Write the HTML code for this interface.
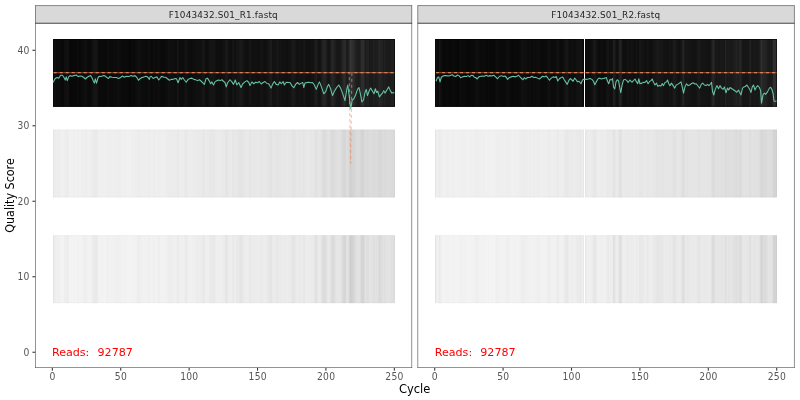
<!DOCTYPE html>
<html><head><meta charset="utf-8"><title>Quality profile</title>
<style>html,body{margin:0;padding:0;background:#fff;width:800px;height:400px;overflow:hidden}</style></head>
<body>
<svg width="800" height="400" viewBox="0 0 800 400" style="display:block;position:absolute;left:0;top:0" font-family='DejaVu Sans, Liberation Sans, sans-serif'>
<rect width="800" height="400" fill="#fff"/>
<g>
<rect x="53" y="39.00" width="1" height="67.90" fill="#141414"/>
<rect x="54" y="39.00" width="1" height="67.90" fill="#111111"/>
<rect x="55" y="39.00" width="1" height="67.90" fill="#0f0f0f"/>
<rect x="56" y="39.00" width="1" height="67.90" fill="#0c0c0c"/>
<rect x="57" y="39.00" width="3" height="67.90" fill="#0d0d0d"/>
<rect x="60" y="39.00" width="2" height="67.90" fill="#0a0a0a"/>
<rect x="62" y="39.00" width="2" height="67.90" fill="#090909"/>
<rect x="64" y="39.00" width="1" height="67.90" fill="#0f0f0f"/>
<rect x="65" y="39.00" width="1" height="67.90" fill="#0e0e0e"/>
<rect x="66" y="39.00" width="1" height="67.90" fill="#0f0f0f"/>
<rect x="67" y="39.00" width="1" height="67.90" fill="#141414"/>
<rect x="68" y="39.00" width="1" height="67.90" fill="#0d0d0d"/>
<rect x="69" y="39.00" width="1" height="67.90" fill="#0a0a0a"/>
<rect x="70" y="39.00" width="2" height="67.90" fill="#080808"/>
<rect x="72" y="39.00" width="2" height="67.90" fill="#090909"/>
<rect x="74" y="39.00" width="1" height="67.90" fill="#0a0a0a"/>
<rect x="75" y="39.00" width="1" height="67.90" fill="#080808"/>
<rect x="76" y="39.00" width="1" height="67.90" fill="#090909"/>
<rect x="77" y="39.00" width="1" height="67.90" fill="#0a0a0a"/>
<rect x="78" y="39.00" width="1" height="67.90" fill="#0c0c0c"/>
<rect x="79" y="39.00" width="1" height="67.90" fill="#080808"/>
<rect x="80" y="39.00" width="1" height="67.90" fill="#090909"/>
<rect x="81" y="39.00" width="1" height="67.90" fill="#0b0b0b"/>
<rect x="82" y="39.00" width="2" height="67.90" fill="#0c0c0c"/>
<rect x="84" y="39.00" width="1" height="67.90" fill="#0e0e0e"/>
<rect x="85" y="39.00" width="1" height="67.90" fill="#0f0f0f"/>
<rect x="86" y="39.00" width="1" height="67.90" fill="#0e0e0e"/>
<rect x="87" y="39.00" width="1" height="67.90" fill="#0b0b0b"/>
<rect x="88" y="39.00" width="3" height="67.90" fill="#0a0a0a"/>
<rect x="91" y="39.00" width="1" height="67.90" fill="#0c0c0c"/>
<rect x="92" y="39.00" width="1" height="67.90" fill="#101010"/>
<rect x="93" y="39.00" width="2" height="67.90" fill="#141414"/>
<rect x="95" y="39.00" width="2" height="67.90" fill="#151515"/>
<rect x="97" y="39.00" width="1" height="67.90" fill="#111111"/>
<rect x="98" y="39.00" width="1" height="67.90" fill="#0b0b0b"/>
<rect x="99" y="39.00" width="1" height="67.90" fill="#0a0a0a"/>
<rect x="100" y="39.00" width="1" height="67.90" fill="#090909"/>
<rect x="101" y="39.00" width="1" height="67.90" fill="#0b0b0b"/>
<rect x="102" y="39.00" width="2" height="67.90" fill="#0a0a0a"/>
<rect x="104" y="39.00" width="1" height="67.90" fill="#090909"/>
<rect x="105" y="39.00" width="1" height="67.90" fill="#0a0a0a"/>
<rect x="106" y="39.00" width="1" height="67.90" fill="#0b0b0b"/>
<rect x="107" y="39.00" width="1" height="67.90" fill="#0c0c0c"/>
<rect x="108" y="39.00" width="1" height="67.90" fill="#0e0e0e"/>
<rect x="109" y="39.00" width="1" height="67.90" fill="#0a0a0a"/>
<rect x="110" y="39.00" width="3" height="67.90" fill="#0b0b0b"/>
<rect x="113" y="39.00" width="4" height="67.90" fill="#0c0c0c"/>
<rect x="117" y="39.00" width="2" height="67.90" fill="#0e0e0e"/>
<rect x="119" y="39.00" width="2" height="67.90" fill="#0d0d0d"/>
<rect x="121" y="39.00" width="1" height="67.90" fill="#0b0b0b"/>
<rect x="122" y="39.00" width="2" height="67.90" fill="#0a0a0a"/>
<rect x="124" y="39.00" width="2" height="67.90" fill="#0b0b0b"/>
<rect x="126" y="39.00" width="2" height="67.90" fill="#0a0a0a"/>
<rect x="128" y="39.00" width="1" height="67.90" fill="#090909"/>
<rect x="129" y="39.00" width="2" height="67.90" fill="#080808"/>
<rect x="131" y="39.00" width="4" height="67.90" fill="#0a0a0a"/>
<rect x="135" y="39.00" width="1" height="67.90" fill="#0b0b0b"/>
<rect x="136" y="39.00" width="1" height="67.90" fill="#0d0d0d"/>
<rect x="137" y="39.00" width="1" height="67.90" fill="#0e0e0e"/>
<rect x="138" y="39.00" width="1" height="67.90" fill="#111111"/>
<rect x="139" y="39.00" width="1" height="67.90" fill="#0f0f0f"/>
<rect x="140" y="39.00" width="1" height="67.90" fill="#0e0e0e"/>
<rect x="141" y="39.00" width="1" height="67.90" fill="#0d0d0d"/>
<rect x="142" y="39.00" width="1" height="67.90" fill="#0b0b0b"/>
<rect x="143" y="39.00" width="2" height="67.90" fill="#0c0c0c"/>
<rect x="145" y="39.00" width="2" height="67.90" fill="#0b0b0b"/>
<rect x="147" y="39.00" width="1" height="67.90" fill="#0c0c0c"/>
<rect x="148" y="39.00" width="1" height="67.90" fill="#0d0d0d"/>
<rect x="149" y="39.00" width="1" height="67.90" fill="#101010"/>
<rect x="150" y="39.00" width="2" height="67.90" fill="#0a0a0a"/>
<rect x="152" y="39.00" width="1" height="67.90" fill="#0b0b0b"/>
<rect x="153" y="39.00" width="2" height="67.90" fill="#0d0d0d"/>
<rect x="155" y="39.00" width="1" height="67.90" fill="#0c0c0c"/>
<rect x="156" y="39.00" width="1" height="67.90" fill="#0b0b0b"/>
<rect x="157" y="39.00" width="1" height="67.90" fill="#0c0c0c"/>
<rect x="158" y="39.00" width="2" height="67.90" fill="#0e0e0e"/>
<rect x="160" y="39.00" width="1" height="67.90" fill="#0b0b0b"/>
<rect x="161" y="39.00" width="3" height="67.90" fill="#0a0a0a"/>
<rect x="164" y="39.00" width="2" height="67.90" fill="#0b0b0b"/>
<rect x="166" y="39.00" width="1" height="67.90" fill="#0c0c0c"/>
<rect x="167" y="39.00" width="1" height="67.90" fill="#0e0e0e"/>
<rect x="168" y="39.00" width="1" height="67.90" fill="#111111"/>
<rect x="169" y="39.00" width="2" height="67.90" fill="#101010"/>
<rect x="171" y="39.00" width="3" height="67.90" fill="#0f0f0f"/>
<rect x="174" y="39.00" width="1" height="67.90" fill="#0e0e0e"/>
<rect x="175" y="39.00" width="1" height="67.90" fill="#0d0d0d"/>
<rect x="176" y="39.00" width="1" height="67.90" fill="#0f0f0f"/>
<rect x="177" y="39.00" width="1" height="67.90" fill="#131313"/>
<rect x="178" y="39.00" width="1" height="67.90" fill="#151515"/>
<rect x="179" y="39.00" width="1" height="67.90" fill="#0b0b0b"/>
<rect x="180" y="39.00" width="2" height="67.90" fill="#0d0d0d"/>
<rect x="182" y="39.00" width="1" height="67.90" fill="#0c0c0c"/>
<rect x="183" y="39.00" width="1" height="67.90" fill="#0d0d0d"/>
<rect x="184" y="39.00" width="1" height="67.90" fill="#101010"/>
<rect x="185" y="39.00" width="1" height="67.90" fill="#131313"/>
<rect x="186" y="39.00" width="1" height="67.90" fill="#141414"/>
<rect x="187" y="39.00" width="2" height="67.90" fill="#0e0e0e"/>
<rect x="189" y="39.00" width="1" height="67.90" fill="#0d0d0d"/>
<rect x="190" y="39.00" width="1" height="67.90" fill="#0b0b0b"/>
<rect x="191" y="39.00" width="1" height="67.90" fill="#0c0c0c"/>
<rect x="192" y="39.00" width="1" height="67.90" fill="#0d0d0d"/>
<rect x="193" y="39.00" width="2" height="67.90" fill="#0e0e0e"/>
<rect x="195" y="39.00" width="1" height="67.90" fill="#0f0f0f"/>
<rect x="196" y="39.00" width="1" height="67.90" fill="#101010"/>
<rect x="197" y="39.00" width="1" height="67.90" fill="#111111"/>
<rect x="198" y="39.00" width="4" height="67.90" fill="#101010"/>
<rect x="202" y="39.00" width="1" height="67.90" fill="#141414"/>
<rect x="203" y="39.00" width="2" height="67.90" fill="#161616"/>
<rect x="205" y="39.00" width="1" height="67.90" fill="#0d0d0d"/>
<rect x="206" y="39.00" width="2" height="67.90" fill="#0e0e0e"/>
<rect x="208" y="39.00" width="1" height="67.90" fill="#0f0f0f"/>
<rect x="209" y="39.00" width="1" height="67.90" fill="#131313"/>
<rect x="210" y="39.00" width="2" height="67.90" fill="#151515"/>
<rect x="212" y="39.00" width="1" height="67.90" fill="#131313"/>
<rect x="213" y="39.00" width="1" height="67.90" fill="#171717"/>
<rect x="214" y="39.00" width="1" height="67.90" fill="#141414"/>
<rect x="215" y="39.00" width="1" height="67.90" fill="#111111"/>
<rect x="216" y="39.00" width="3" height="67.90" fill="#0e0e0e"/>
<rect x="219" y="39.00" width="1" height="67.90" fill="#0f0f0f"/>
<rect x="220" y="39.00" width="1" height="67.90" fill="#0d0d0d"/>
<rect x="221" y="39.00" width="1" height="67.90" fill="#0f0f0f"/>
<rect x="222" y="39.00" width="1" height="67.90" fill="#101010"/>
<rect x="223" y="39.00" width="2" height="67.90" fill="#111111"/>
<rect x="225" y="39.00" width="1" height="67.90" fill="#181818"/>
<rect x="226" y="39.00" width="1" height="67.90" fill="#1a1a1a"/>
<rect x="227" y="39.00" width="1" height="67.90" fill="#161616"/>
<rect x="228" y="39.00" width="1" height="67.90" fill="#121212"/>
<rect x="229" y="39.00" width="1" height="67.90" fill="#101010"/>
<rect x="230" y="39.00" width="2" height="67.90" fill="#0f0f0f"/>
<rect x="232" y="39.00" width="2" height="67.90" fill="#141414"/>
<rect x="234" y="39.00" width="1" height="67.90" fill="#131313"/>
<rect x="235" y="39.00" width="1" height="67.90" fill="#0f0f0f"/>
<rect x="236" y="39.00" width="1" height="67.90" fill="#141414"/>
<rect x="237" y="39.00" width="1" height="67.90" fill="#161616"/>
<rect x="238" y="39.00" width="1" height="67.90" fill="#141414"/>
<rect x="239" y="39.00" width="1" height="67.90" fill="#181818"/>
<rect x="240" y="39.00" width="2" height="67.90" fill="#1a1a1a"/>
<rect x="242" y="39.00" width="1" height="67.90" fill="#161616"/>
<rect x="243" y="39.00" width="1" height="67.90" fill="#141414"/>
<rect x="244" y="39.00" width="1" height="67.90" fill="#121212"/>
<rect x="245" y="39.00" width="1" height="67.90" fill="#101010"/>
<rect x="246" y="39.00" width="2" height="67.90" fill="#0f0f0f"/>
<rect x="248" y="39.00" width="1" height="67.90" fill="#111111"/>
<rect x="249" y="39.00" width="1" height="67.90" fill="#141414"/>
<rect x="250" y="39.00" width="1" height="67.90" fill="#161616"/>
<rect x="251" y="39.00" width="1" height="67.90" fill="#121212"/>
<rect x="252" y="39.00" width="1" height="67.90" fill="#101010"/>
<rect x="253" y="39.00" width="2" height="67.90" fill="#121212"/>
<rect x="255" y="39.00" width="1" height="67.90" fill="#111111"/>
<rect x="256" y="39.00" width="1" height="67.90" fill="#101010"/>
<rect x="257" y="39.00" width="1" height="67.90" fill="#111111"/>
<rect x="258" y="39.00" width="1" height="67.90" fill="#0f0f0f"/>
<rect x="259" y="39.00" width="1" height="67.90" fill="#101010"/>
<rect x="260" y="39.00" width="1" height="67.90" fill="#121212"/>
<rect x="261" y="39.00" width="1" height="67.90" fill="#141414"/>
<rect x="262" y="39.00" width="1" height="67.90" fill="#121212"/>
<rect x="263" y="39.00" width="1" height="67.90" fill="#111111"/>
<rect x="264" y="39.00" width="2" height="67.90" fill="#101010"/>
<rect x="266" y="39.00" width="1" height="67.90" fill="#121212"/>
<rect x="267" y="39.00" width="1" height="67.90" fill="#141414"/>
<rect x="268" y="39.00" width="1" height="67.90" fill="#151515"/>
<rect x="269" y="39.00" width="1" height="67.90" fill="#191919"/>
<rect x="270" y="39.00" width="2" height="67.90" fill="#1b1b1b"/>
<rect x="272" y="39.00" width="1" height="67.90" fill="#131313"/>
<rect x="273" y="39.00" width="2" height="67.90" fill="#121212"/>
<rect x="275" y="39.00" width="1" height="67.90" fill="#131313"/>
<rect x="276" y="39.00" width="1" height="67.90" fill="#151515"/>
<rect x="277" y="39.00" width="1" height="67.90" fill="#171717"/>
<rect x="278" y="39.00" width="1" height="67.90" fill="#161616"/>
<rect x="279" y="39.00" width="1" height="67.90" fill="#121212"/>
<rect x="280" y="39.00" width="2" height="67.90" fill="#131313"/>
<rect x="282" y="39.00" width="1" height="67.90" fill="#121212"/>
<rect x="283" y="39.00" width="1" height="67.90" fill="#101010"/>
<rect x="284" y="39.00" width="1" height="67.90" fill="#131313"/>
<rect x="285" y="39.00" width="1" height="67.90" fill="#121212"/>
<rect x="286" y="39.00" width="2" height="67.90" fill="#101010"/>
<rect x="288" y="39.00" width="2" height="67.90" fill="#121212"/>
<rect x="290" y="39.00" width="1" height="67.90" fill="#111111"/>
<rect x="291" y="39.00" width="1" height="67.90" fill="#181818"/>
<rect x="292" y="39.00" width="1" height="67.90" fill="#191919"/>
<rect x="293" y="39.00" width="1" height="67.90" fill="#1a1a1a"/>
<rect x="294" y="39.00" width="1" height="67.90" fill="#191919"/>
<rect x="295" y="39.00" width="1" height="67.90" fill="#151515"/>
<rect x="296" y="39.00" width="1" height="67.90" fill="#121212"/>
<rect x="297" y="39.00" width="1" height="67.90" fill="#111111"/>
<rect x="298" y="39.00" width="1" height="67.90" fill="#131313"/>
<rect x="299" y="39.00" width="1" height="67.90" fill="#141414"/>
<rect x="300" y="39.00" width="1" height="67.90" fill="#131313"/>
<rect x="301" y="39.00" width="2" height="67.90" fill="#121212"/>
<rect x="303" y="39.00" width="1" height="67.90" fill="#161616"/>
<rect x="304" y="39.00" width="1" height="67.90" fill="#171717"/>
<rect x="305" y="39.00" width="3" height="67.90" fill="#111111"/>
<rect x="308" y="39.00" width="2" height="67.90" fill="#101010"/>
<rect x="310" y="39.00" width="3" height="67.90" fill="#121212"/>
<rect x="313" y="39.00" width="1" height="67.90" fill="#131313"/>
<rect x="314" y="39.00" width="1" height="67.90" fill="#181818"/>
<rect x="315" y="39.00" width="1" height="67.90" fill="#1b1b1b"/>
<rect x="316" y="39.00" width="1" height="67.90" fill="#1f1f1f"/>
<rect x="317" y="39.00" width="1" height="67.90" fill="#171717"/>
<rect x="318" y="39.00" width="1" height="67.90" fill="#131313"/>
<rect x="319" y="39.00" width="1" height="67.90" fill="#121212"/>
<rect x="320" y="39.00" width="1" height="67.90" fill="#141414"/>
<rect x="321" y="39.00" width="1" height="67.90" fill="#1b1b1b"/>
<rect x="322" y="39.00" width="1" height="67.90" fill="#202020"/>
<rect x="323" y="39.00" width="1" height="67.90" fill="#242424"/>
<rect x="324" y="39.00" width="1" height="67.90" fill="#262626"/>
<rect x="325" y="39.00" width="1" height="67.90" fill="#222222"/>
<rect x="326" y="39.00" width="1" height="67.90" fill="#1d1d1d"/>
<rect x="327" y="39.00" width="1" height="67.90" fill="#171717"/>
<rect x="328" y="39.00" width="1" height="67.90" fill="#141414"/>
<rect x="329" y="39.00" width="1" height="67.90" fill="#171717"/>
<rect x="330" y="39.00" width="1" height="67.90" fill="#1b1b1b"/>
<rect x="331" y="39.00" width="1" height="67.90" fill="#222222"/>
<rect x="332" y="39.00" width="1" height="67.90" fill="#282828"/>
<rect x="333" y="39.00" width="1" height="67.90" fill="#242424"/>
<rect x="334" y="39.00" width="1" height="67.90" fill="#202020"/>
<rect x="335" y="39.00" width="1" height="67.90" fill="#1c1c1c"/>
<rect x="336" y="39.00" width="1" height="67.90" fill="#181818"/>
<rect x="337" y="39.00" width="2" height="67.90" fill="#171717"/>
<rect x="339" y="39.00" width="1" height="67.90" fill="#161616"/>
<rect x="340" y="39.00" width="1" height="67.90" fill="#1a1a1a"/>
<rect x="341" y="39.00" width="1" height="67.90" fill="#1e1e1e"/>
<rect x="342" y="39.00" width="1" height="67.90" fill="#232323"/>
<rect x="343" y="39.00" width="1" height="67.90" fill="#292929"/>
<rect x="344" y="39.00" width="1" height="67.90" fill="#2c2c2c"/>
<rect x="345" y="39.00" width="1" height="67.90" fill="#292929"/>
<rect x="346" y="39.00" width="1" height="67.90" fill="#1d1d1d"/>
<rect x="347" y="39.00" width="1" height="67.90" fill="#1b1b1b"/>
<rect x="348" y="39.00" width="1" height="67.90" fill="#222222"/>
<rect x="349" y="39.00" width="1" height="67.90" fill="#2a2a2a"/>
<rect x="350" y="39.00" width="1" height="67.90" fill="#363636"/>
<rect x="351" y="39.00" width="1" height="67.90" fill="#313131"/>
<rect x="352" y="39.00" width="1" height="67.90" fill="#2e2e2e"/>
<rect x="353" y="39.00" width="1" height="67.90" fill="#2c2c2c"/>
<rect x="354" y="39.00" width="1" height="67.90" fill="#272727"/>
<rect x="355" y="39.00" width="1" height="67.90" fill="#222222"/>
<rect x="356" y="39.00" width="1" height="67.90" fill="#1f1f1f"/>
<rect x="357" y="39.00" width="1" height="67.90" fill="#1c1c1c"/>
<rect x="358" y="39.00" width="1" height="67.90" fill="#1b1b1b"/>
<rect x="359" y="39.00" width="1" height="67.90" fill="#1d1d1d"/>
<rect x="360" y="39.00" width="1" height="67.90" fill="#222222"/>
<rect x="361" y="39.00" width="1" height="67.90" fill="#2d2d2d"/>
<rect x="362" y="39.00" width="1" height="67.90" fill="#2e2e2e"/>
<rect x="363" y="39.00" width="1" height="67.90" fill="#2b2b2b"/>
<rect x="364" y="39.00" width="1" height="67.90" fill="#262626"/>
<rect x="365" y="39.00" width="1" height="67.90" fill="#1c1c1c"/>
<rect x="366" y="39.00" width="1" height="67.90" fill="#202020"/>
<rect x="367" y="39.00" width="2" height="67.90" fill="#212121"/>
<rect x="369" y="39.00" width="1" height="67.90" fill="#1a1a1a"/>
<rect x="370" y="39.00" width="2" height="67.90" fill="#1b1b1b"/>
<rect x="372" y="39.00" width="1" height="67.90" fill="#1a1a1a"/>
<rect x="373" y="39.00" width="1" height="67.90" fill="#212121"/>
<rect x="374" y="39.00" width="1" height="67.90" fill="#1e1e1e"/>
<rect x="375" y="39.00" width="1" height="67.90" fill="#1c1c1c"/>
<rect x="376" y="39.00" width="2" height="67.90" fill="#1e1e1e"/>
<rect x="378" y="39.00" width="1" height="67.90" fill="#222222"/>
<rect x="379" y="39.00" width="1" height="67.90" fill="#282828"/>
<rect x="380" y="39.00" width="1" height="67.90" fill="#242424"/>
<rect x="381" y="39.00" width="1" height="67.90" fill="#232323"/>
<rect x="382" y="39.00" width="1" height="67.90" fill="#202020"/>
<rect x="383" y="39.00" width="1" height="67.90" fill="#1c1c1c"/>
<rect x="384" y="39.00" width="1" height="67.90" fill="#202020"/>
<rect x="385" y="39.00" width="1" height="67.90" fill="#1e1e1e"/>
<rect x="386" y="39.00" width="1" height="67.90" fill="#1c1c1c"/>
<rect x="387" y="39.00" width="1" height="67.90" fill="#1a1a1a"/>
<rect x="388" y="39.00" width="3" height="67.90" fill="#1b1b1b"/>
<rect x="391" y="39.00" width="1" height="67.90" fill="#202020"/>
<rect x="392" y="39.00" width="1" height="67.90" fill="#1f1f1f"/>
<rect x="393" y="39.00" width="2" height="67.90" fill="#202020"/>
<rect x="53.50" y="39.50" width="341.00" height="66.90" fill="none" stroke="#000" stroke-opacity="0.550" stroke-width="1"/>
<rect x="53" y="129.54" width="1" height="67.94" fill="#ebebeb"/>
<rect x="54" y="129.54" width="1" height="67.94" fill="#ececec"/>
<rect x="55" y="129.54" width="1" height="67.94" fill="#ededed"/>
<rect x="56" y="129.54" width="1" height="67.94" fill="#eeeeee"/>
<rect x="57" y="129.54" width="3" height="67.94" fill="#ededed"/>
<rect x="60" y="129.54" width="1" height="67.94" fill="#efefef"/>
<rect x="61" y="129.54" width="3" height="67.94" fill="#f0f0f0"/>
<rect x="64" y="129.54" width="2" height="67.94" fill="#eeeeee"/>
<rect x="66" y="129.54" width="1" height="67.94" fill="#ededed"/>
<rect x="67" y="129.54" width="1" height="67.94" fill="#ebebeb"/>
<rect x="68" y="129.54" width="1" height="67.94" fill="#eeeeee"/>
<rect x="69" y="129.54" width="1" height="67.94" fill="#f0f0f0"/>
<rect x="70" y="129.54" width="3" height="67.94" fill="#f1f1f1"/>
<rect x="73" y="129.54" width="1" height="67.94" fill="#f0f0f0"/>
<rect x="74" y="129.54" width="1" height="67.94" fill="#efefef"/>
<rect x="75" y="129.54" width="1" height="67.94" fill="#f1f1f1"/>
<rect x="76" y="129.54" width="2" height="67.94" fill="#f0f0f0"/>
<rect x="78" y="129.54" width="1" height="67.94" fill="#eeeeee"/>
<rect x="79" y="129.54" width="1" height="67.94" fill="#f1f1f1"/>
<rect x="80" y="129.54" width="1" height="67.94" fill="#f0f0f0"/>
<rect x="81" y="129.54" width="1" height="67.94" fill="#efefef"/>
<rect x="82" y="129.54" width="1" height="67.94" fill="#eeeeee"/>
<rect x="83" y="129.54" width="1" height="67.94" fill="#efefef"/>
<rect x="84" y="129.54" width="1" height="67.94" fill="#eeeeee"/>
<rect x="85" y="129.54" width="2" height="67.94" fill="#ededed"/>
<rect x="87" y="129.54" width="1" height="67.94" fill="#efefef"/>
<rect x="88" y="129.54" width="1" height="67.94" fill="#f0f0f0"/>
<rect x="89" y="129.54" width="2" height="67.94" fill="#efefef"/>
<rect x="91" y="129.54" width="1" height="67.94" fill="#eeeeee"/>
<rect x="92" y="129.54" width="1" height="67.94" fill="#ededed"/>
<rect x="93" y="129.54" width="1" height="67.94" fill="#eaeaea"/>
<rect x="94" y="129.54" width="1" height="67.94" fill="#ebebeb"/>
<rect x="95" y="129.54" width="2" height="67.94" fill="#eaeaea"/>
<rect x="97" y="129.54" width="1" height="67.94" fill="#ececec"/>
<rect x="98" y="129.54" width="2" height="67.94" fill="#efefef"/>
<rect x="100" y="129.54" width="1" height="67.94" fill="#f0f0f0"/>
<rect x="101" y="129.54" width="3" height="67.94" fill="#efefef"/>
<rect x="104" y="129.54" width="1" height="67.94" fill="#f0f0f0"/>
<rect x="105" y="129.54" width="2" height="67.94" fill="#efefef"/>
<rect x="107" y="129.54" width="1" height="67.94" fill="#eeeeee"/>
<rect x="108" y="129.54" width="1" height="67.94" fill="#ededed"/>
<rect x="109" y="129.54" width="2" height="67.94" fill="#efefef"/>
<rect x="111" y="129.54" width="1" height="67.94" fill="#eeeeee"/>
<rect x="112" y="129.54" width="1" height="67.94" fill="#efefef"/>
<rect x="113" y="129.54" width="4" height="67.94" fill="#eeeeee"/>
<rect x="117" y="129.54" width="2" height="67.94" fill="#ededed"/>
<rect x="119" y="129.54" width="2" height="67.94" fill="#eeeeee"/>
<rect x="121" y="129.54" width="1" height="67.94" fill="#efefef"/>
<rect x="122" y="129.54" width="1" height="67.94" fill="#f0f0f0"/>
<rect x="123" y="129.54" width="3" height="67.94" fill="#efefef"/>
<rect x="126" y="129.54" width="3" height="67.94" fill="#f0f0f0"/>
<rect x="129" y="129.54" width="2" height="67.94" fill="#f1f1f1"/>
<rect x="131" y="129.54" width="4" height="67.94" fill="#efefef"/>
<rect x="135" y="129.54" width="2" height="67.94" fill="#eeeeee"/>
<rect x="137" y="129.54" width="1" height="67.94" fill="#ededed"/>
<rect x="138" y="129.54" width="1" height="67.94" fill="#ececec"/>
<rect x="139" y="129.54" width="2" height="67.94" fill="#ededed"/>
<rect x="141" y="129.54" width="1" height="67.94" fill="#eeeeee"/>
<rect x="142" y="129.54" width="1" height="67.94" fill="#efefef"/>
<rect x="143" y="129.54" width="5" height="67.94" fill="#eeeeee"/>
<rect x="148" y="129.54" width="1" height="67.94" fill="#ededed"/>
<rect x="149" y="129.54" width="1" height="67.94" fill="#ececec"/>
<rect x="150" y="129.54" width="3" height="67.94" fill="#efefef"/>
<rect x="153" y="129.54" width="2" height="67.94" fill="#ededed"/>
<rect x="155" y="129.54" width="1" height="67.94" fill="#eeeeee"/>
<rect x="156" y="129.54" width="1" height="67.94" fill="#efefef"/>
<rect x="157" y="129.54" width="1" height="67.94" fill="#eeeeee"/>
<rect x="158" y="129.54" width="2" height="67.94" fill="#ededed"/>
<rect x="160" y="129.54" width="1" height="67.94" fill="#eeeeee"/>
<rect x="161" y="129.54" width="3" height="67.94" fill="#efefef"/>
<rect x="164" y="129.54" width="2" height="67.94" fill="#eeeeee"/>
<rect x="166" y="129.54" width="1" height="67.94" fill="#ededed"/>
<rect x="167" y="129.54" width="1" height="67.94" fill="#ececec"/>
<rect x="168" y="129.54" width="3" height="67.94" fill="#ebebeb"/>
<rect x="171" y="129.54" width="1" height="67.94" fill="#ececec"/>
<rect x="172" y="129.54" width="3" height="67.94" fill="#ebebeb"/>
<rect x="175" y="129.54" width="1" height="67.94" fill="#ececec"/>
<rect x="176" y="129.54" width="1" height="67.94" fill="#ebebeb"/>
<rect x="177" y="129.54" width="1" height="67.94" fill="#e9e9e9"/>
<rect x="178" y="129.54" width="1" height="67.94" fill="#e8e8e8"/>
<rect x="179" y="129.54" width="1" height="67.94" fill="#ededed"/>
<rect x="180" y="129.54" width="2" height="67.94" fill="#ececec"/>
<rect x="182" y="129.54" width="1" height="67.94" fill="#ededed"/>
<rect x="183" y="129.54" width="1" height="67.94" fill="#ececec"/>
<rect x="184" y="129.54" width="1" height="67.94" fill="#eaeaea"/>
<rect x="185" y="129.54" width="1" height="67.94" fill="#e9e9e9"/>
<rect x="186" y="129.54" width="1" height="67.94" fill="#e8e8e8"/>
<rect x="187" y="129.54" width="3" height="67.94" fill="#ececec"/>
<rect x="190" y="129.54" width="1" height="67.94" fill="#ededed"/>
<rect x="191" y="129.54" width="2" height="67.94" fill="#ececec"/>
<rect x="193" y="129.54" width="1" height="67.94" fill="#ebebeb"/>
<rect x="194" y="129.54" width="1" height="67.94" fill="#ececec"/>
<rect x="195" y="129.54" width="1" height="67.94" fill="#ebebeb"/>
<rect x="196" y="129.54" width="6" height="67.94" fill="#eaeaea"/>
<rect x="202" y="129.54" width="1" height="67.94" fill="#e8e8e8"/>
<rect x="203" y="129.54" width="2" height="67.94" fill="#e7e7e7"/>
<rect x="205" y="129.54" width="1" height="67.94" fill="#ebebeb"/>
<rect x="206" y="129.54" width="3" height="67.94" fill="#eaeaea"/>
<rect x="209" y="129.54" width="1" height="67.94" fill="#e8e8e8"/>
<rect x="210" y="129.54" width="2" height="67.94" fill="#e7e7e7"/>
<rect x="212" y="129.54" width="1" height="67.94" fill="#e8e8e8"/>
<rect x="213" y="129.54" width="1" height="67.94" fill="#e7e7e7"/>
<rect x="214" y="129.54" width="1" height="67.94" fill="#e8e8e8"/>
<rect x="215" y="129.54" width="1" height="67.94" fill="#e9e9e9"/>
<rect x="216" y="129.54" width="1" height="67.94" fill="#eaeaea"/>
<rect x="217" y="129.54" width="1" height="67.94" fill="#ebebeb"/>
<rect x="218" y="129.54" width="2" height="67.94" fill="#eaeaea"/>
<rect x="220" y="129.54" width="1" height="67.94" fill="#ebebeb"/>
<rect x="221" y="129.54" width="1" height="67.94" fill="#eaeaea"/>
<rect x="222" y="129.54" width="3" height="67.94" fill="#e9e9e9"/>
<rect x="225" y="129.54" width="1" height="67.94" fill="#e6e6e6"/>
<rect x="226" y="129.54" width="1" height="67.94" fill="#e4e4e4"/>
<rect x="227" y="129.54" width="1" height="67.94" fill="#e6e6e6"/>
<rect x="228" y="129.54" width="1" height="67.94" fill="#e8e8e8"/>
<rect x="229" y="129.54" width="1" height="67.94" fill="#e9e9e9"/>
<rect x="230" y="129.54" width="2" height="67.94" fill="#eaeaea"/>
<rect x="232" y="129.54" width="2" height="67.94" fill="#e6e6e6"/>
<rect x="234" y="129.54" width="1" height="67.94" fill="#e7e7e7"/>
<rect x="235" y="129.54" width="1" height="67.94" fill="#e9e9e9"/>
<rect x="236" y="129.54" width="1" height="67.94" fill="#e7e7e7"/>
<rect x="237" y="129.54" width="1" height="67.94" fill="#e6e6e6"/>
<rect x="238" y="129.54" width="1" height="67.94" fill="#e7e7e7"/>
<rect x="239" y="129.54" width="3" height="67.94" fill="#e4e4e4"/>
<rect x="242" y="129.54" width="1" height="67.94" fill="#e5e5e5"/>
<rect x="243" y="129.54" width="1" height="67.94" fill="#e6e6e6"/>
<rect x="244" y="129.54" width="1" height="67.94" fill="#e7e7e7"/>
<rect x="245" y="129.54" width="1" height="67.94" fill="#e8e8e8"/>
<rect x="246" y="129.54" width="2" height="67.94" fill="#e9e9e9"/>
<rect x="248" y="129.54" width="1" height="67.94" fill="#e8e8e8"/>
<rect x="249" y="129.54" width="1" height="67.94" fill="#e6e6e6"/>
<rect x="250" y="129.54" width="1" height="67.94" fill="#e5e5e5"/>
<rect x="251" y="129.54" width="1" height="67.94" fill="#e8e8e8"/>
<rect x="252" y="129.54" width="1" height="67.94" fill="#e9e9e9"/>
<rect x="253" y="129.54" width="1" height="67.94" fill="#e8e8e8"/>
<rect x="254" y="129.54" width="1" height="67.94" fill="#e7e7e7"/>
<rect x="255" y="129.54" width="1" height="67.94" fill="#e8e8e8"/>
<rect x="256" y="129.54" width="1" height="67.94" fill="#e9e9e9"/>
<rect x="257" y="129.54" width="1" height="67.94" fill="#e8e8e8"/>
<rect x="258" y="129.54" width="1" height="67.94" fill="#e9e9e9"/>
<rect x="259" y="129.54" width="1" height="67.94" fill="#e8e8e8"/>
<rect x="260" y="129.54" width="1" height="67.94" fill="#e7e7e7"/>
<rect x="261" y="129.54" width="1" height="67.94" fill="#e6e6e6"/>
<rect x="262" y="129.54" width="1" height="67.94" fill="#e7e7e7"/>
<rect x="263" y="129.54" width="3" height="67.94" fill="#e8e8e8"/>
<rect x="266" y="129.54" width="1" height="67.94" fill="#e7e7e7"/>
<rect x="267" y="129.54" width="1" height="67.94" fill="#e6e6e6"/>
<rect x="268" y="129.54" width="1" height="67.94" fill="#e5e5e5"/>
<rect x="269" y="129.54" width="3" height="67.94" fill="#e3e3e3"/>
<rect x="272" y="129.54" width="1" height="67.94" fill="#e7e7e7"/>
<rect x="273" y="129.54" width="3" height="67.94" fill="#e6e6e6"/>
<rect x="276" y="129.54" width="1" height="67.94" fill="#e5e5e5"/>
<rect x="277" y="129.54" width="1" height="67.94" fill="#e4e4e4"/>
<rect x="278" y="129.54" width="1" height="67.94" fill="#e5e5e5"/>
<rect x="279" y="129.54" width="3" height="67.94" fill="#e6e6e6"/>
<rect x="282" y="129.54" width="1" height="67.94" fill="#e7e7e7"/>
<rect x="283" y="129.54" width="1" height="67.94" fill="#e8e8e8"/>
<rect x="284" y="129.54" width="1" height="67.94" fill="#e6e6e6"/>
<rect x="285" y="129.54" width="1" height="67.94" fill="#e7e7e7"/>
<rect x="286" y="129.54" width="2" height="67.94" fill="#e8e8e8"/>
<rect x="288" y="129.54" width="2" height="67.94" fill="#e7e7e7"/>
<rect x="290" y="129.54" width="1" height="67.94" fill="#e8e8e8"/>
<rect x="291" y="129.54" width="3" height="67.94" fill="#e4e4e4"/>
<rect x="294" y="129.54" width="1" height="67.94" fill="#e3e3e3"/>
<rect x="295" y="129.54" width="1" height="67.94" fill="#e5e5e5"/>
<rect x="296" y="129.54" width="1" height="67.94" fill="#e7e7e7"/>
<rect x="297" y="129.54" width="1" height="67.94" fill="#e8e8e8"/>
<rect x="298" y="129.54" width="3" height="67.94" fill="#e6e6e6"/>
<rect x="301" y="129.54" width="2" height="67.94" fill="#e7e7e7"/>
<rect x="303" y="129.54" width="2" height="67.94" fill="#e5e5e5"/>
<rect x="305" y="129.54" width="5" height="67.94" fill="#e8e8e8"/>
<rect x="310" y="129.54" width="2" height="67.94" fill="#e6e6e6"/>
<rect x="312" y="129.54" width="2" height="67.94" fill="#e7e7e7"/>
<rect x="314" y="129.54" width="1" height="67.94" fill="#e4e4e4"/>
<rect x="315" y="129.54" width="1" height="67.94" fill="#e3e3e3"/>
<rect x="316" y="129.54" width="1" height="67.94" fill="#e1e1e1"/>
<rect x="317" y="129.54" width="1" height="67.94" fill="#e4e4e4"/>
<rect x="318" y="129.54" width="2" height="67.94" fill="#e6e6e6"/>
<rect x="320" y="129.54" width="1" height="67.94" fill="#e5e5e5"/>
<rect x="321" y="129.54" width="1" height="67.94" fill="#e1e1e1"/>
<rect x="322" y="129.54" width="1" height="67.94" fill="#dedede"/>
<rect x="323" y="129.54" width="1" height="67.94" fill="#dddddd"/>
<rect x="324" y="129.54" width="1" height="67.94" fill="#dbdbdb"/>
<rect x="325" y="129.54" width="1" height="67.94" fill="#dddddd"/>
<rect x="326" y="129.54" width="1" height="67.94" fill="#dfdfdf"/>
<rect x="327" y="129.54" width="1" height="67.94" fill="#e1e1e1"/>
<rect x="328" y="129.54" width="1" height="67.94" fill="#e3e3e3"/>
<rect x="329" y="129.54" width="1" height="67.94" fill="#e1e1e1"/>
<rect x="330" y="129.54" width="1" height="67.94" fill="#dfdfdf"/>
<rect x="331" y="129.54" width="1" height="67.94" fill="#dbdbdb"/>
<rect x="332" y="129.54" width="1" height="67.94" fill="#d9d9d9"/>
<rect x="333" y="129.54" width="1" height="67.94" fill="#dbdbdb"/>
<rect x="334" y="129.54" width="1" height="67.94" fill="#dddddd"/>
<rect x="335" y="129.54" width="1" height="67.94" fill="#dedede"/>
<rect x="336" y="129.54" width="2" height="67.94" fill="#e0e0e0"/>
<rect x="338" y="129.54" width="2" height="67.94" fill="#e1e1e1"/>
<rect x="340" y="129.54" width="1" height="67.94" fill="#dfdfdf"/>
<rect x="341" y="129.54" width="1" height="67.94" fill="#dcdcdc"/>
<rect x="342" y="129.54" width="1" height="67.94" fill="#dadada"/>
<rect x="343" y="129.54" width="1" height="67.94" fill="#d7d7d7"/>
<rect x="344" y="129.54" width="1" height="67.94" fill="#d6d6d6"/>
<rect x="345" y="129.54" width="1" height="67.94" fill="#d7d7d7"/>
<rect x="346" y="129.54" width="2" height="67.94" fill="#dddddd"/>
<rect x="348" y="129.54" width="1" height="67.94" fill="#dadada"/>
<rect x="349" y="129.54" width="1" height="67.94" fill="#d5d5d5"/>
<rect x="350" y="129.54" width="1" height="67.94" fill="#cfcfcf"/>
<rect x="351" y="129.54" width="1" height="67.94" fill="#d1d1d1"/>
<rect x="352" y="129.54" width="1" height="67.94" fill="#d3d3d3"/>
<rect x="353" y="129.54" width="1" height="67.94" fill="#d4d4d4"/>
<rect x="354" y="129.54" width="1" height="67.94" fill="#d6d6d6"/>
<rect x="355" y="129.54" width="1" height="67.94" fill="#d8d8d8"/>
<rect x="356" y="129.54" width="1" height="67.94" fill="#dadada"/>
<rect x="357" y="129.54" width="1" height="67.94" fill="#dbdbdb"/>
<rect x="358" y="129.54" width="1" height="67.94" fill="#dcdcdc"/>
<rect x="359" y="129.54" width="1" height="67.94" fill="#dadada"/>
<rect x="360" y="129.54" width="1" height="67.94" fill="#d8d8d8"/>
<rect x="361" y="129.54" width="2" height="67.94" fill="#d3d3d3"/>
<rect x="363" y="129.54" width="1" height="67.94" fill="#d5d5d5"/>
<rect x="364" y="129.54" width="1" height="67.94" fill="#d8d8d8"/>
<rect x="365" y="129.54" width="1" height="67.94" fill="#dcdcdc"/>
<rect x="366" y="129.54" width="1" height="67.94" fill="#dadada"/>
<rect x="367" y="129.54" width="1" height="67.94" fill="#d9d9d9"/>
<rect x="368" y="129.54" width="1" height="67.94" fill="#dadada"/>
<rect x="369" y="129.54" width="1" height="67.94" fill="#dddddd"/>
<rect x="370" y="129.54" width="2" height="67.94" fill="#dcdcdc"/>
<rect x="372" y="129.54" width="1" height="67.94" fill="#dddddd"/>
<rect x="373" y="129.54" width="1" height="67.94" fill="#d9d9d9"/>
<rect x="374" y="129.54" width="1" height="67.94" fill="#dadada"/>
<rect x="375" y="129.54" width="1" height="67.94" fill="#dcdcdc"/>
<rect x="376" y="129.54" width="2" height="67.94" fill="#dbdbdb"/>
<rect x="378" y="129.54" width="1" height="67.94" fill="#d9d9d9"/>
<rect x="379" y="129.54" width="1" height="67.94" fill="#d6d6d6"/>
<rect x="380" y="129.54" width="1" height="67.94" fill="#d8d8d8"/>
<rect x="381" y="129.54" width="1" height="67.94" fill="#d9d9d9"/>
<rect x="382" y="129.54" width="1" height="67.94" fill="#dadada"/>
<rect x="383" y="129.54" width="1" height="67.94" fill="#dcdcdc"/>
<rect x="384" y="129.54" width="2" height="67.94" fill="#dadada"/>
<rect x="386" y="129.54" width="1" height="67.94" fill="#dbdbdb"/>
<rect x="387" y="129.54" width="1" height="67.94" fill="#dddddd"/>
<rect x="388" y="129.54" width="3" height="67.94" fill="#dcdcdc"/>
<rect x="391" y="129.54" width="4" height="67.94" fill="#dadada"/>
<rect x="53.50" y="130.04" width="341.00" height="66.94" fill="none" stroke="#000" stroke-opacity="0.022" stroke-width="1"/>
<rect x="53" y="235.23" width="1" height="67.94" fill="#eaeaea"/>
<rect x="54" y="235.23" width="1" height="67.94" fill="#ececec"/>
<rect x="55" y="235.23" width="1" height="67.94" fill="#eeeeee"/>
<rect x="56" y="235.23" width="2" height="67.94" fill="#f0f0f0"/>
<rect x="58" y="235.23" width="1" height="67.94" fill="#efefef"/>
<rect x="59" y="235.23" width="1" height="67.94" fill="#f0f0f0"/>
<rect x="60" y="235.23" width="2" height="67.94" fill="#f2f2f2"/>
<rect x="62" y="235.23" width="2" height="67.94" fill="#f3f3f3"/>
<rect x="64" y="235.23" width="1" height="67.94" fill="#eeeeee"/>
<rect x="65" y="235.23" width="1" height="67.94" fill="#efefef"/>
<rect x="66" y="235.23" width="1" height="67.94" fill="#eeeeee"/>
<rect x="67" y="235.23" width="1" height="67.94" fill="#eaeaea"/>
<rect x="68" y="235.23" width="1" height="67.94" fill="#f0f0f0"/>
<rect x="69" y="235.23" width="1" height="67.94" fill="#f2f2f2"/>
<rect x="70" y="235.23" width="4" height="67.94" fill="#f3f3f3"/>
<rect x="74" y="235.23" width="1" height="67.94" fill="#f2f2f2"/>
<rect x="75" y="235.23" width="1" height="67.94" fill="#f4f4f4"/>
<rect x="76" y="235.23" width="1" height="67.94" fill="#f3f3f3"/>
<rect x="77" y="235.23" width="1" height="67.94" fill="#f2f2f2"/>
<rect x="78" y="235.23" width="1" height="67.94" fill="#f1f1f1"/>
<rect x="79" y="235.23" width="2" height="67.94" fill="#f3f3f3"/>
<rect x="81" y="235.23" width="1" height="67.94" fill="#f2f2f2"/>
<rect x="82" y="235.23" width="1" height="67.94" fill="#f1f1f1"/>
<rect x="83" y="235.23" width="1" height="67.94" fill="#f0f0f0"/>
<rect x="84" y="235.23" width="1" height="67.94" fill="#efefef"/>
<rect x="85" y="235.23" width="1" height="67.94" fill="#eeeeee"/>
<rect x="86" y="235.23" width="1" height="67.94" fill="#efefef"/>
<rect x="87" y="235.23" width="1" height="67.94" fill="#f1f1f1"/>
<rect x="88" y="235.23" width="3" height="67.94" fill="#f2f2f2"/>
<rect x="91" y="235.23" width="1" height="67.94" fill="#f0f0f0"/>
<rect x="92" y="235.23" width="1" height="67.94" fill="#ededed"/>
<rect x="93" y="235.23" width="2" height="67.94" fill="#eaeaea"/>
<rect x="95" y="235.23" width="2" height="67.94" fill="#e9e9e9"/>
<rect x="97" y="235.23" width="1" height="67.94" fill="#ececec"/>
<rect x="98" y="235.23" width="1" height="67.94" fill="#f1f1f1"/>
<rect x="99" y="235.23" width="5" height="67.94" fill="#f2f2f2"/>
<rect x="104" y="235.23" width="1" height="67.94" fill="#f3f3f3"/>
<rect x="105" y="235.23" width="1" height="67.94" fill="#f2f2f2"/>
<rect x="106" y="235.23" width="1" height="67.94" fill="#f1f1f1"/>
<rect x="107" y="235.23" width="1" height="67.94" fill="#f0f0f0"/>
<rect x="108" y="235.23" width="1" height="67.94" fill="#efefef"/>
<rect x="109" y="235.23" width="2" height="67.94" fill="#f2f2f2"/>
<rect x="111" y="235.23" width="3" height="67.94" fill="#f1f1f1"/>
<rect x="114" y="235.23" width="3" height="67.94" fill="#f0f0f0"/>
<rect x="117" y="235.23" width="2" height="67.94" fill="#efefef"/>
<rect x="119" y="235.23" width="2" height="67.94" fill="#f0f0f0"/>
<rect x="121" y="235.23" width="3" height="67.94" fill="#f2f2f2"/>
<rect x="124" y="235.23" width="1" height="67.94" fill="#f1f1f1"/>
<rect x="125" y="235.23" width="3" height="67.94" fill="#f2f2f2"/>
<rect x="128" y="235.23" width="3" height="67.94" fill="#f3f3f3"/>
<rect x="131" y="235.23" width="4" height="67.94" fill="#f2f2f2"/>
<rect x="135" y="235.23" width="1" height="67.94" fill="#f1f1f1"/>
<rect x="136" y="235.23" width="1" height="67.94" fill="#f0f0f0"/>
<rect x="137" y="235.23" width="1" height="67.94" fill="#eeeeee"/>
<rect x="138" y="235.23" width="1" height="67.94" fill="#ececec"/>
<rect x="139" y="235.23" width="1" height="67.94" fill="#eeeeee"/>
<rect x="140" y="235.23" width="2" height="67.94" fill="#efefef"/>
<rect x="142" y="235.23" width="6" height="67.94" fill="#f1f1f1"/>
<rect x="148" y="235.23" width="1" height="67.94" fill="#f0f0f0"/>
<rect x="149" y="235.23" width="1" height="67.94" fill="#ededed"/>
<rect x="150" y="235.23" width="2" height="67.94" fill="#f2f2f2"/>
<rect x="152" y="235.23" width="1" height="67.94" fill="#f1f1f1"/>
<rect x="153" y="235.23" width="1" height="67.94" fill="#efefef"/>
<rect x="154" y="235.23" width="1" height="67.94" fill="#f0f0f0"/>
<rect x="155" y="235.23" width="1" height="67.94" fill="#f1f1f1"/>
<rect x="156" y="235.23" width="1" height="67.94" fill="#f2f2f2"/>
<rect x="157" y="235.23" width="1" height="67.94" fill="#f0f0f0"/>
<rect x="158" y="235.23" width="2" height="67.94" fill="#eeeeee"/>
<rect x="160" y="235.23" width="1" height="67.94" fill="#f1f1f1"/>
<rect x="161" y="235.23" width="3" height="67.94" fill="#f2f2f2"/>
<rect x="164" y="235.23" width="2" height="67.94" fill="#f1f1f1"/>
<rect x="166" y="235.23" width="1" height="67.94" fill="#f0f0f0"/>
<rect x="167" y="235.23" width="1" height="67.94" fill="#efefef"/>
<rect x="168" y="235.23" width="3" height="67.94" fill="#ededed"/>
<rect x="171" y="235.23" width="3" height="67.94" fill="#eeeeee"/>
<rect x="174" y="235.23" width="1" height="67.94" fill="#efefef"/>
<rect x="175" y="235.23" width="1" height="67.94" fill="#f0f0f0"/>
<rect x="176" y="235.23" width="1" height="67.94" fill="#eeeeee"/>
<rect x="177" y="235.23" width="1" height="67.94" fill="#ebebeb"/>
<rect x="178" y="235.23" width="1" height="67.94" fill="#e9e9e9"/>
<rect x="179" y="235.23" width="1" height="67.94" fill="#f1f1f1"/>
<rect x="180" y="235.23" width="2" height="67.94" fill="#efefef"/>
<rect x="182" y="235.23" width="2" height="67.94" fill="#f0f0f0"/>
<rect x="184" y="235.23" width="1" height="67.94" fill="#ededed"/>
<rect x="185" y="235.23" width="1" height="67.94" fill="#ebebeb"/>
<rect x="186" y="235.23" width="1" height="67.94" fill="#e9e9e9"/>
<rect x="187" y="235.23" width="1" height="67.94" fill="#eeeeee"/>
<rect x="188" y="235.23" width="1" height="67.94" fill="#efefef"/>
<rect x="189" y="235.23" width="1" height="67.94" fill="#f0f0f0"/>
<rect x="190" y="235.23" width="1" height="67.94" fill="#f1f1f1"/>
<rect x="191" y="235.23" width="1" height="67.94" fill="#f0f0f0"/>
<rect x="192" y="235.23" width="3" height="67.94" fill="#efefef"/>
<rect x="195" y="235.23" width="1" height="67.94" fill="#eeeeee"/>
<rect x="196" y="235.23" width="1" height="67.94" fill="#ededed"/>
<rect x="197" y="235.23" width="1" height="67.94" fill="#ececec"/>
<rect x="198" y="235.23" width="3" height="67.94" fill="#ededed"/>
<rect x="201" y="235.23" width="1" height="67.94" fill="#ececec"/>
<rect x="202" y="235.23" width="1" height="67.94" fill="#eaeaea"/>
<rect x="203" y="235.23" width="2" height="67.94" fill="#e8e8e8"/>
<rect x="205" y="235.23" width="1" height="67.94" fill="#efefef"/>
<rect x="206" y="235.23" width="3" height="67.94" fill="#eeeeee"/>
<rect x="209" y="235.23" width="1" height="67.94" fill="#ebebeb"/>
<rect x="210" y="235.23" width="2" height="67.94" fill="#e9e9e9"/>
<rect x="212" y="235.23" width="1" height="67.94" fill="#eaeaea"/>
<rect x="213" y="235.23" width="1" height="67.94" fill="#e7e7e7"/>
<rect x="214" y="235.23" width="1" height="67.94" fill="#e9e9e9"/>
<rect x="215" y="235.23" width="1" height="67.94" fill="#ececec"/>
<rect x="216" y="235.23" width="1" height="67.94" fill="#eeeeee"/>
<rect x="217" y="235.23" width="1" height="67.94" fill="#efefef"/>
<rect x="218" y="235.23" width="2" height="67.94" fill="#eeeeee"/>
<rect x="220" y="235.23" width="1" height="67.94" fill="#efefef"/>
<rect x="221" y="235.23" width="1" height="67.94" fill="#eeeeee"/>
<rect x="222" y="235.23" width="1" height="67.94" fill="#ededed"/>
<rect x="223" y="235.23" width="2" height="67.94" fill="#ececec"/>
<rect x="225" y="235.23" width="1" height="67.94" fill="#e6e6e6"/>
<rect x="226" y="235.23" width="1" height="67.94" fill="#e5e5e5"/>
<rect x="227" y="235.23" width="1" height="67.94" fill="#e8e8e8"/>
<rect x="228" y="235.23" width="1" height="67.94" fill="#ececec"/>
<rect x="229" y="235.23" width="1" height="67.94" fill="#ededed"/>
<rect x="230" y="235.23" width="1" height="67.94" fill="#eeeeee"/>
<rect x="231" y="235.23" width="1" height="67.94" fill="#ededed"/>
<rect x="232" y="235.23" width="1" height="67.94" fill="#eaeaea"/>
<rect x="233" y="235.23" width="1" height="67.94" fill="#e9e9e9"/>
<rect x="234" y="235.23" width="1" height="67.94" fill="#ebebeb"/>
<rect x="235" y="235.23" width="1" height="67.94" fill="#eeeeee"/>
<rect x="236" y="235.23" width="1" height="67.94" fill="#e9e9e9"/>
<rect x="237" y="235.23" width="1" height="67.94" fill="#e8e8e8"/>
<rect x="238" y="235.23" width="1" height="67.94" fill="#eaeaea"/>
<rect x="239" y="235.23" width="1" height="67.94" fill="#e6e6e6"/>
<rect x="240" y="235.23" width="2" height="67.94" fill="#e4e4e4"/>
<rect x="242" y="235.23" width="1" height="67.94" fill="#e8e8e8"/>
<rect x="243" y="235.23" width="1" height="67.94" fill="#eaeaea"/>
<rect x="244" y="235.23" width="1" height="67.94" fill="#ebebeb"/>
<rect x="245" y="235.23" width="1" height="67.94" fill="#ececec"/>
<rect x="246" y="235.23" width="2" height="67.94" fill="#ededed"/>
<rect x="248" y="235.23" width="1" height="67.94" fill="#ececec"/>
<rect x="249" y="235.23" width="1" height="67.94" fill="#e9e9e9"/>
<rect x="250" y="235.23" width="1" height="67.94" fill="#e8e8e8"/>
<rect x="251" y="235.23" width="1" height="67.94" fill="#ebebeb"/>
<rect x="252" y="235.23" width="1" height="67.94" fill="#ececec"/>
<rect x="253" y="235.23" width="2" height="67.94" fill="#ebebeb"/>
<rect x="255" y="235.23" width="3" height="67.94" fill="#ececec"/>
<rect x="258" y="235.23" width="1" height="67.94" fill="#ededed"/>
<rect x="259" y="235.23" width="1" height="67.94" fill="#ececec"/>
<rect x="260" y="235.23" width="1" height="67.94" fill="#ebebeb"/>
<rect x="261" y="235.23" width="1" height="67.94" fill="#e9e9e9"/>
<rect x="262" y="235.23" width="1" height="67.94" fill="#ebebeb"/>
<rect x="263" y="235.23" width="1" height="67.94" fill="#ececec"/>
<rect x="264" y="235.23" width="1" height="67.94" fill="#ededed"/>
<rect x="265" y="235.23" width="1" height="67.94" fill="#ececec"/>
<rect x="266" y="235.23" width="1" height="67.94" fill="#ebebeb"/>
<rect x="267" y="235.23" width="2" height="67.94" fill="#e9e9e9"/>
<rect x="269" y="235.23" width="1" height="67.94" fill="#e5e5e5"/>
<rect x="270" y="235.23" width="2" height="67.94" fill="#e4e4e4"/>
<rect x="272" y="235.23" width="1" height="67.94" fill="#eaeaea"/>
<rect x="273" y="235.23" width="2" height="67.94" fill="#ebebeb"/>
<rect x="275" y="235.23" width="1" height="67.94" fill="#eaeaea"/>
<rect x="276" y="235.23" width="1" height="67.94" fill="#e8e8e8"/>
<rect x="277" y="235.23" width="1" height="67.94" fill="#e7e7e7"/>
<rect x="278" y="235.23" width="1" height="67.94" fill="#e8e8e8"/>
<rect x="279" y="235.23" width="1" height="67.94" fill="#ebebeb"/>
<rect x="280" y="235.23" width="1" height="67.94" fill="#eaeaea"/>
<rect x="281" y="235.23" width="2" height="67.94" fill="#ebebeb"/>
<rect x="283" y="235.23" width="1" height="67.94" fill="#ededed"/>
<rect x="284" y="235.23" width="2" height="67.94" fill="#eaeaea"/>
<rect x="286" y="235.23" width="1" height="67.94" fill="#ececec"/>
<rect x="287" y="235.23" width="1" height="67.94" fill="#ededed"/>
<rect x="288" y="235.23" width="2" height="67.94" fill="#ebebeb"/>
<rect x="290" y="235.23" width="1" height="67.94" fill="#ececec"/>
<rect x="291" y="235.23" width="1" height="67.94" fill="#e6e6e6"/>
<rect x="292" y="235.23" width="3" height="67.94" fill="#e5e5e5"/>
<rect x="295" y="235.23" width="1" height="67.94" fill="#e8e8e8"/>
<rect x="296" y="235.23" width="1" height="67.94" fill="#ebebeb"/>
<rect x="297" y="235.23" width="1" height="67.94" fill="#ececec"/>
<rect x="298" y="235.23" width="1" height="67.94" fill="#eaeaea"/>
<rect x="299" y="235.23" width="1" height="67.94" fill="#e9e9e9"/>
<rect x="300" y="235.23" width="1" height="67.94" fill="#eaeaea"/>
<rect x="301" y="235.23" width="2" height="67.94" fill="#ebebeb"/>
<rect x="303" y="235.23" width="2" height="67.94" fill="#e7e7e7"/>
<rect x="305" y="235.23" width="5" height="67.94" fill="#ececec"/>
<rect x="310" y="235.23" width="3" height="67.94" fill="#ebebeb"/>
<rect x="313" y="235.23" width="1" height="67.94" fill="#eaeaea"/>
<rect x="314" y="235.23" width="1" height="67.94" fill="#e6e6e6"/>
<rect x="315" y="235.23" width="1" height="67.94" fill="#e3e3e3"/>
<rect x="316" y="235.23" width="1" height="67.94" fill="#e0e0e0"/>
<rect x="317" y="235.23" width="1" height="67.94" fill="#e7e7e7"/>
<rect x="318" y="235.23" width="1" height="67.94" fill="#eaeaea"/>
<rect x="319" y="235.23" width="1" height="67.94" fill="#ebebeb"/>
<rect x="320" y="235.23" width="1" height="67.94" fill="#eaeaea"/>
<rect x="321" y="235.23" width="1" height="67.94" fill="#e3e3e3"/>
<rect x="322" y="235.23" width="1" height="67.94" fill="#dfdfdf"/>
<rect x="323" y="235.23" width="1" height="67.94" fill="#dcdcdc"/>
<rect x="324" y="235.23" width="1" height="67.94" fill="#dbdbdb"/>
<rect x="325" y="235.23" width="1" height="67.94" fill="#dedede"/>
<rect x="326" y="235.23" width="1" height="67.94" fill="#e2e2e2"/>
<rect x="327" y="235.23" width="1" height="67.94" fill="#e6e6e6"/>
<rect x="328" y="235.23" width="1" height="67.94" fill="#e9e9e9"/>
<rect x="329" y="235.23" width="1" height="67.94" fill="#e7e7e7"/>
<rect x="330" y="235.23" width="1" height="67.94" fill="#e3e3e3"/>
<rect x="331" y="235.23" width="1" height="67.94" fill="#dedede"/>
<rect x="332" y="235.23" width="1" height="67.94" fill="#d9d9d9"/>
<rect x="333" y="235.23" width="1" height="67.94" fill="#dcdcdc"/>
<rect x="334" y="235.23" width="1" height="67.94" fill="#dfdfdf"/>
<rect x="335" y="235.23" width="1" height="67.94" fill="#e2e2e2"/>
<rect x="336" y="235.23" width="1" height="67.94" fill="#e5e5e5"/>
<rect x="337" y="235.23" width="2" height="67.94" fill="#e6e6e6"/>
<rect x="339" y="235.23" width="1" height="67.94" fill="#e7e7e7"/>
<rect x="340" y="235.23" width="1" height="67.94" fill="#e4e4e4"/>
<rect x="341" y="235.23" width="1" height="67.94" fill="#e1e1e1"/>
<rect x="342" y="235.23" width="1" height="67.94" fill="#dcdcdc"/>
<rect x="343" y="235.23" width="1" height="67.94" fill="#d7d7d7"/>
<rect x="344" y="235.23" width="1" height="67.94" fill="#d5d5d5"/>
<rect x="345" y="235.23" width="1" height="67.94" fill="#d7d7d7"/>
<rect x="346" y="235.23" width="1" height="67.94" fill="#e1e1e1"/>
<rect x="347" y="235.23" width="1" height="67.94" fill="#e4e4e4"/>
<rect x="348" y="235.23" width="1" height="67.94" fill="#dedede"/>
<rect x="349" y="235.23" width="1" height="67.94" fill="#d6d6d6"/>
<rect x="350" y="235.23" width="1" height="67.94" fill="#cdcdcd"/>
<rect x="351" y="235.23" width="1" height="67.94" fill="#d0d0d0"/>
<rect x="352" y="235.23" width="1" height="67.94" fill="#d3d3d3"/>
<rect x="353" y="235.23" width="1" height="67.94" fill="#d5d5d5"/>
<rect x="354" y="235.23" width="1" height="67.94" fill="#d9d9d9"/>
<rect x="355" y="235.23" width="1" height="67.94" fill="#dddddd"/>
<rect x="356" y="235.23" width="1" height="67.94" fill="#e0e0e0"/>
<rect x="357" y="235.23" width="1" height="67.94" fill="#e2e2e2"/>
<rect x="358" y="235.23" width="1" height="67.94" fill="#e3e3e3"/>
<rect x="359" y="235.23" width="1" height="67.94" fill="#e1e1e1"/>
<rect x="360" y="235.23" width="1" height="67.94" fill="#dddddd"/>
<rect x="361" y="235.23" width="1" height="67.94" fill="#d4d4d4"/>
<rect x="362" y="235.23" width="1" height="67.94" fill="#d3d3d3"/>
<rect x="363" y="235.23" width="1" height="67.94" fill="#d6d6d6"/>
<rect x="364" y="235.23" width="1" height="67.94" fill="#dadada"/>
<rect x="365" y="235.23" width="1" height="67.94" fill="#e2e2e2"/>
<rect x="366" y="235.23" width="1" height="67.94" fill="#dfdfdf"/>
<rect x="367" y="235.23" width="2" height="67.94" fill="#dedede"/>
<rect x="369" y="235.23" width="1" height="67.94" fill="#e4e4e4"/>
<rect x="370" y="235.23" width="3" height="67.94" fill="#e3e3e3"/>
<rect x="373" y="235.23" width="1" height="67.94" fill="#dedede"/>
<rect x="374" y="235.23" width="1" height="67.94" fill="#e0e0e0"/>
<rect x="375" y="235.23" width="1" height="67.94" fill="#e2e2e2"/>
<rect x="376" y="235.23" width="1" height="67.94" fill="#e0e0e0"/>
<rect x="377" y="235.23" width="1" height="67.94" fill="#e1e1e1"/>
<rect x="378" y="235.23" width="1" height="67.94" fill="#dddddd"/>
<rect x="379" y="235.23" width="1" height="67.94" fill="#d8d8d8"/>
<rect x="380" y="235.23" width="1" height="67.94" fill="#dbdbdb"/>
<rect x="381" y="235.23" width="1" height="67.94" fill="#dcdcdc"/>
<rect x="382" y="235.23" width="1" height="67.94" fill="#dfdfdf"/>
<rect x="383" y="235.23" width="1" height="67.94" fill="#e2e2e2"/>
<rect x="384" y="235.23" width="1" height="67.94" fill="#dfdfdf"/>
<rect x="385" y="235.23" width="1" height="67.94" fill="#e1e1e1"/>
<rect x="386" y="235.23" width="1" height="67.94" fill="#e2e2e2"/>
<rect x="387" y="235.23" width="1" height="67.94" fill="#e4e4e4"/>
<rect x="388" y="235.23" width="3" height="67.94" fill="#e3e3e3"/>
<rect x="391" y="235.23" width="4" height="67.94" fill="#dfdfdf"/>
<rect x="53.50" y="235.73" width="341.00" height="66.94" fill="none" stroke="#000" stroke-opacity="0.022" stroke-width="1"/>
</g>
<polyline points="53.12,82.50 55.00,78.75 56.88,77.50 58.75,78.12 60.62,75.25 62.50,75.25 64.00,77.50 65.25,80.00 66.25,76.88 67.25,80.62 68.75,76.88 70.00,75.62 71.88,76.25 73.75,75.62 76.25,75.00 78.12,76.62 80.00,76.00 81.88,76.25 83.75,77.50 85.38,79.00 86.88,77.50 88.75,76.25 90.62,75.62 91.88,77.50 93.12,80.62 94.38,83.12 95.25,78.75 96.50,83.12 98.12,77.50 99.38,76.25 101.25,76.50 103.12,75.62 105.00,75.88 106.88,77.50 108.50,78.50 109.75,76.62 111.88,77.25 113.75,77.50 116.25,77.50 118.75,78.50 120.62,77.50 122.50,76.00 124.38,77.25 126.25,76.25 128.75,76.50 131.25,75.62 133.12,76.25 135.00,75.62 136.88,77.50 138.50,80.25 140.00,78.75 141.88,77.50 143.75,77.12 145.62,76.25 147.50,76.88 149.38,79.38 150.00,76.88 151.25,76.25 153.12,78.50 155.00,77.50 156.88,76.88 158.75,80.00 160.62,77.50 161.88,76.25 163.75,77.25 165.62,77.25 167.50,78.75 169.38,80.25 171.25,79.38 173.12,79.38 175.00,78.50 176.50,78.75 178.12,82.75 180.00,77.50 181.25,79.38 182.75,77.50 184.38,80.00 186.25,82.25 188.12,79.38 190.00,78.50 191.88,78.12 193.75,79.38 195.62,79.75 197.50,80.62 199.38,79.75 201.25,81.25 203.12,83.12 204.38,84.38 206.00,78.75 207.50,78.12 209.00,80.62 210.62,83.75 211.88,81.88 213.50,85.00 215.00,81.88 216.88,80.62 218.75,80.00 220.25,80.62 221.88,79.75 223.75,81.50 225.00,82.50 226.25,86.88 227.75,82.50 230.00,79.75 231.88,81.88 233.50,84.38 235.25,80.00 236.88,85.00 238.75,82.50 241.00,87.50 242.75,83.75 245.00,81.88 246.88,80.62 248.75,82.50 250.00,85.62 251.88,81.88 253.75,83.75 255.62,82.25 257.50,82.75 259.38,81.50 261.25,84.00 263.12,82.50 265.00,81.50 266.88,83.50 268.75,83.75 271.00,88.12 272.50,84.38 274.38,81.50 276.25,84.38 278.12,85.00 279.75,81.88 281.25,83.75 283.12,81.50 284.38,85.00 286.25,82.25 288.12,82.50 290.00,82.50 291.88,85.62 293.75,87.75 295.62,84.38 297.50,82.50 299.38,84.38 301.25,83.12 302.75,82.50 303.75,87.50 305.00,83.12 306.88,82.50 308.75,82.25 310.62,82.75 312.50,82.50 314.38,85.00 316.25,89.38 318.12,84.38 319.38,81.88 320.00,83.12 321.88,88.12 323.75,93.75 325.62,91.88 327.50,86.25 328.75,84.38 330.62,88.75 332.50,95.62 334.38,91.25 336.25,88.12 338.75,85.00 340.62,88.12 342.50,93.12 345.00,100.62 346.88,88.75 347.75,85.00 349.38,97.50 350.62,108.75 352.25,100.00 353.75,98.75 355.62,95.00 357.50,89.38 359.00,87.50 360.62,95.00 361.88,101.88 363.50,100.00 365.00,92.50 366.25,89.38 367.50,95.62 369.00,91.25 370.62,88.12 372.50,91.25 374.00,93.75 375.38,88.75 376.50,92.50 377.75,91.25 379.38,96.88 381.25,94.38 382.50,93.12 383.75,90.62 385.00,93.12 386.88,90.00 388.75,86.88 390.25,90.62 391.88,93.12 393.12,92.50 394.38,93.12" fill="none" stroke="#66c2a5" stroke-width="1.07" stroke-linejoin="round"/>
<polyline points="53.70,72.70 349.19,72.70 350.55,163.51 351.92,72.70 394.33,72.70" fill="none" stroke="#fc8d62" stroke-width="0.68" stroke-dasharray="3 3"/>
<line x1="53.70" y1="72.70" x2="394.33" y2="72.70" stroke="#fc8d62" stroke-width="0.53"/>
<line x1="53.70" y1="72.70" x2="394.33" y2="72.70" stroke="#fc8d62" stroke-width="0.53" stroke-dasharray="3 3"/>
<text x="51.93" y="356" font-size="11.12" word-spacing="0.55" fill="#ff0000" xml:space="preserve">Reads:  92787</text>
<rect x="35.20" y="5.50" width="376.90" height="17.80" fill="#d9d9d9"/>
<rect x="35.20" y="5.50" width="376.90" height="0.53" fill="#333333"/>
<rect x="35.20" y="22.77" width="376.90" height="0.53" fill="#333333"/>
<rect x="35.20" y="5.50" width="0.53" height="17.80" fill="#333333"/>
<rect x="411.57" y="5.50" width="0.53" height="17.80" fill="#333333"/>
<rect x="35.20" y="23.30" width="376.90" height="0.53" fill="#333333"/>
<rect x="35.20" y="367.37" width="376.90" height="0.53" fill="#333333"/>
<rect x="35.20" y="23.30" width="0.53" height="344.60" fill="#333333"/>
<rect x="411.57" y="23.30" width="0.53" height="344.60" fill="#333333"/>
<text x="223.35" y="18" font-size="8.9" letter-spacing="0.16" fill="#262626" text-anchor="middle">F1043432.S01_R1.fastq</text>
<rect x="51.80" y="367.90" width="1.07" height="2.75" fill="#333333"/>
<text transform="translate(52.48,380.45) scale(1,1.06)" font-size="9.2" letter-spacing="0.25" fill="#555" text-anchor="middle">0</text>
<rect x="120.20" y="367.90" width="1.07" height="2.75" fill="#333333"/>
<text transform="translate(120.88,380.45) scale(1,1.06)" font-size="9.2" letter-spacing="0.25" fill="#555" text-anchor="middle">50</text>
<rect x="188.59" y="367.90" width="1.07" height="2.75" fill="#333333"/>
<text transform="translate(189.28,380.45) scale(1,1.06)" font-size="9.2" letter-spacing="0.25" fill="#555" text-anchor="middle">100</text>
<rect x="257.00" y="367.90" width="1.07" height="2.75" fill="#333333"/>
<text transform="translate(257.68,380.45) scale(1,1.06)" font-size="9.2" letter-spacing="0.25" fill="#555" text-anchor="middle">150</text>
<rect x="325.39" y="367.90" width="1.07" height="2.75" fill="#333333"/>
<text transform="translate(326.08,380.45) scale(1,1.06)" font-size="9.2" letter-spacing="0.25" fill="#555" text-anchor="middle">200</text>
<rect x="393.79" y="367.90" width="1.07" height="2.75" fill="#333333"/>
<text transform="translate(394.48,380.45) scale(1,1.06)" font-size="9.2" letter-spacing="0.25" fill="#555" text-anchor="middle">250</text>
<g>
<rect x="435" y="39.00" width="1" height="67.90" fill="#141414"/>
<rect x="436" y="39.00" width="1" height="67.90" fill="#0f0f0f"/>
<rect x="437" y="39.00" width="2" height="67.90" fill="#0c0c0c"/>
<rect x="439" y="39.00" width="1" height="67.90" fill="#151515"/>
<rect x="440" y="39.00" width="1" height="67.90" fill="#111111"/>
<rect x="441" y="39.00" width="1" height="67.90" fill="#0c0c0c"/>
<rect x="442" y="39.00" width="1" height="67.90" fill="#0a0a0a"/>
<rect x="443" y="39.00" width="2" height="67.90" fill="#080808"/>
<rect x="445" y="39.00" width="1" height="67.90" fill="#090909"/>
<rect x="446" y="39.00" width="3" height="67.90" fill="#0a0a0a"/>
<rect x="449" y="39.00" width="1" height="67.90" fill="#090909"/>
<rect x="450" y="39.00" width="1" height="67.90" fill="#080808"/>
<rect x="451" y="39.00" width="1" height="67.90" fill="#090909"/>
<rect x="452" y="39.00" width="1" height="67.90" fill="#0a0a0a"/>
<rect x="453" y="39.00" width="1" height="67.90" fill="#0b0b0b"/>
<rect x="454" y="39.00" width="1" height="67.90" fill="#0a0a0a"/>
<rect x="455" y="39.00" width="2" height="67.90" fill="#090909"/>
<rect x="457" y="39.00" width="1" height="67.90" fill="#070707"/>
<rect x="458" y="39.00" width="1" height="67.90" fill="#080808"/>
<rect x="459" y="39.00" width="1" height="67.90" fill="#0a0a0a"/>
<rect x="460" y="39.00" width="1" height="67.90" fill="#0d0d0d"/>
<rect x="461" y="39.00" width="4" height="67.90" fill="#0b0b0b"/>
<rect x="465" y="39.00" width="1" height="67.90" fill="#0a0a0a"/>
<rect x="466" y="39.00" width="2" height="67.90" fill="#090909"/>
<rect x="468" y="39.00" width="2" height="67.90" fill="#080808"/>
<rect x="470" y="39.00" width="1" height="67.90" fill="#090909"/>
<rect x="471" y="39.00" width="3" height="67.90" fill="#0a0a0a"/>
<rect x="474" y="39.00" width="1" height="67.90" fill="#0b0b0b"/>
<rect x="475" y="39.00" width="1" height="67.90" fill="#0d0d0d"/>
<rect x="476" y="39.00" width="1" height="67.90" fill="#0f0f0f"/>
<rect x="477" y="39.00" width="1" height="67.90" fill="#0e0e0e"/>
<rect x="478" y="39.00" width="1" height="67.90" fill="#0d0d0d"/>
<rect x="479" y="39.00" width="1" height="67.90" fill="#0b0b0b"/>
<rect x="480" y="39.00" width="3" height="67.90" fill="#0a0a0a"/>
<rect x="483" y="39.00" width="2" height="67.90" fill="#0b0b0b"/>
<rect x="485" y="39.00" width="1" height="67.90" fill="#0a0a0a"/>
<rect x="486" y="39.00" width="1" height="67.90" fill="#080808"/>
<rect x="487" y="39.00" width="1" height="67.90" fill="#090909"/>
<rect x="488" y="39.00" width="1" height="67.90" fill="#0a0a0a"/>
<rect x="489" y="39.00" width="1" height="67.90" fill="#090909"/>
<rect x="490" y="39.00" width="1" height="67.90" fill="#080808"/>
<rect x="491" y="39.00" width="1" height="67.90" fill="#090909"/>
<rect x="492" y="39.00" width="2" height="67.90" fill="#080808"/>
<rect x="494" y="39.00" width="1" height="67.90" fill="#090909"/>
<rect x="495" y="39.00" width="1" height="67.90" fill="#0b0b0b"/>
<rect x="496" y="39.00" width="1" height="67.90" fill="#0d0d0d"/>
<rect x="497" y="39.00" width="1" height="67.90" fill="#0e0e0e"/>
<rect x="498" y="39.00" width="1" height="67.90" fill="#0c0c0c"/>
<rect x="499" y="39.00" width="1" height="67.90" fill="#0b0b0b"/>
<rect x="500" y="39.00" width="6" height="67.90" fill="#0a0a0a"/>
<rect x="506" y="39.00" width="3" height="67.90" fill="#0e0e0e"/>
<rect x="509" y="39.00" width="1" height="67.90" fill="#0d0d0d"/>
<rect x="510" y="39.00" width="1" height="67.90" fill="#0a0a0a"/>
<rect x="511" y="39.00" width="1" height="67.90" fill="#090909"/>
<rect x="512" y="39.00" width="1" height="67.90" fill="#080808"/>
<rect x="513" y="39.00" width="1" height="67.90" fill="#0b0b0b"/>
<rect x="514" y="39.00" width="4" height="67.90" fill="#0a0a0a"/>
<rect x="518" y="39.00" width="2" height="67.90" fill="#0b0b0b"/>
<rect x="520" y="39.00" width="1" height="67.90" fill="#0c0c0c"/>
<rect x="521" y="39.00" width="1" height="67.90" fill="#0f0f0f"/>
<rect x="522" y="39.00" width="2" height="67.90" fill="#101010"/>
<rect x="524" y="39.00" width="3" height="67.90" fill="#0e0e0e"/>
<rect x="527" y="39.00" width="4" height="67.90" fill="#0c0c0c"/>
<rect x="531" y="39.00" width="1" height="67.90" fill="#0a0a0a"/>
<rect x="532" y="39.00" width="1" height="67.90" fill="#0b0b0b"/>
<rect x="533" y="39.00" width="2" height="67.90" fill="#0c0c0c"/>
<rect x="535" y="39.00" width="1" height="67.90" fill="#0b0b0b"/>
<rect x="536" y="39.00" width="2" height="67.90" fill="#0d0d0d"/>
<rect x="538" y="39.00" width="2" height="67.90" fill="#0e0e0e"/>
<rect x="540" y="39.00" width="1" height="67.90" fill="#0b0b0b"/>
<rect x="541" y="39.00" width="1" height="67.90" fill="#0a0a0a"/>
<rect x="542" y="39.00" width="1" height="67.90" fill="#090909"/>
<rect x="543" y="39.00" width="2" height="67.90" fill="#0b0b0b"/>
<rect x="545" y="39.00" width="1" height="67.90" fill="#0a0a0a"/>
<rect x="546" y="39.00" width="1" height="67.90" fill="#0b0b0b"/>
<rect x="547" y="39.00" width="1" height="67.90" fill="#0e0e0e"/>
<rect x="548" y="39.00" width="1" height="67.90" fill="#101010"/>
<rect x="549" y="39.00" width="1" height="67.90" fill="#111111"/>
<rect x="550" y="39.00" width="1" height="67.90" fill="#0d0d0d"/>
<rect x="551" y="39.00" width="3" height="67.90" fill="#0b0b0b"/>
<rect x="554" y="39.00" width="2" height="67.90" fill="#0c0c0c"/>
<rect x="556" y="39.00" width="1" height="67.90" fill="#0e0e0e"/>
<rect x="557" y="39.00" width="1" height="67.90" fill="#141414"/>
<rect x="558" y="39.00" width="1" height="67.90" fill="#101010"/>
<rect x="559" y="39.00" width="1" height="67.90" fill="#0e0e0e"/>
<rect x="560" y="39.00" width="1" height="67.90" fill="#0c0c0c"/>
<rect x="561" y="39.00" width="1" height="67.90" fill="#0a0a0a"/>
<rect x="562" y="39.00" width="1" height="67.90" fill="#0c0c0c"/>
<rect x="563" y="39.00" width="1" height="67.90" fill="#0e0e0e"/>
<rect x="564" y="39.00" width="1" height="67.90" fill="#111111"/>
<rect x="565" y="39.00" width="1" height="67.90" fill="#151515"/>
<rect x="566" y="39.00" width="1" height="67.90" fill="#171717"/>
<rect x="567" y="39.00" width="1" height="67.90" fill="#161616"/>
<rect x="568" y="39.00" width="1" height="67.90" fill="#111111"/>
<rect x="569" y="39.00" width="1" height="67.90" fill="#0d0d0d"/>
<rect x="570" y="39.00" width="1" height="67.90" fill="#0e0e0e"/>
<rect x="571" y="39.00" width="1" height="67.90" fill="#0f0f0f"/>
<rect x="572" y="39.00" width="1" height="67.90" fill="#101010"/>
<rect x="573" y="39.00" width="2" height="67.90" fill="#0d0d0d"/>
<rect x="575" y="39.00" width="1" height="67.90" fill="#0e0e0e"/>
<rect x="576" y="39.00" width="1" height="67.90" fill="#111111"/>
<rect x="577" y="39.00" width="3" height="67.90" fill="#121212"/>
<rect x="580" y="39.00" width="1" height="67.90" fill="#161616"/>
<rect x="581" y="39.00" width="1" height="67.90" fill="#111111"/>
<rect x="582" y="39.00" width="1" height="67.90" fill="#0e0e0e"/>
<rect x="583" y="39.00" width="1" height="67.90" fill="#0d0d0d"/>
<rect x="584" y="39.00" width="1" height="67.90" fill="#ffffff"/>
<rect x="585" y="39.00" width="1" height="67.90" fill="#0f0f0f"/>
<rect x="586" y="39.00" width="1" height="67.90" fill="#0e0e0e"/>
<rect x="587" y="39.00" width="1" height="67.90" fill="#0d0d0d"/>
<rect x="588" y="39.00" width="1" height="67.90" fill="#0c0c0c"/>
<rect x="589" y="39.00" width="2" height="67.90" fill="#0d0d0d"/>
<rect x="591" y="39.00" width="1" height="67.90" fill="#0f0f0f"/>
<rect x="592" y="39.00" width="1" height="67.90" fill="#111111"/>
<rect x="593" y="39.00" width="1" height="67.90" fill="#151515"/>
<rect x="594" y="39.00" width="1" height="67.90" fill="#1a1a1a"/>
<rect x="595" y="39.00" width="1" height="67.90" fill="#161616"/>
<rect x="596" y="39.00" width="1" height="67.90" fill="#121212"/>
<rect x="597" y="39.00" width="1" height="67.90" fill="#0e0e0e"/>
<rect x="598" y="39.00" width="2" height="67.90" fill="#0c0c0c"/>
<rect x="600" y="39.00" width="1" height="67.90" fill="#0d0d0d"/>
<rect x="601" y="39.00" width="1" height="67.90" fill="#0e0e0e"/>
<rect x="602" y="39.00" width="1" height="67.90" fill="#0d0d0d"/>
<rect x="603" y="39.00" width="3" height="67.90" fill="#0c0c0c"/>
<rect x="606" y="39.00" width="1" height="67.90" fill="#101010"/>
<rect x="607" y="39.00" width="2" height="67.90" fill="#141414"/>
<rect x="609" y="39.00" width="2" height="67.90" fill="#101010"/>
<rect x="611" y="39.00" width="1" height="67.90" fill="#0f0f0f"/>
<rect x="612" y="39.00" width="1" height="67.90" fill="#111111"/>
<rect x="613" y="39.00" width="1" height="67.90" fill="#202020"/>
<rect x="614" y="39.00" width="1" height="67.90" fill="#1c1c1c"/>
<rect x="615" y="39.00" width="1" height="67.90" fill="#161616"/>
<rect x="616" y="39.00" width="1" height="67.90" fill="#101010"/>
<rect x="617" y="39.00" width="1" height="67.90" fill="#0e0e0e"/>
<rect x="618" y="39.00" width="1" height="67.90" fill="#171717"/>
<rect x="619" y="39.00" width="1" height="67.90" fill="#1e1e1e"/>
<rect x="620" y="39.00" width="1" height="67.90" fill="#242424"/>
<rect x="621" y="39.00" width="1" height="67.90" fill="#1b1b1b"/>
<rect x="622" y="39.00" width="1" height="67.90" fill="#131313"/>
<rect x="623" y="39.00" width="2" height="67.90" fill="#0e0e0e"/>
<rect x="625" y="39.00" width="1" height="67.90" fill="#0f0f0f"/>
<rect x="626" y="39.00" width="1" height="67.90" fill="#111111"/>
<rect x="627" y="39.00" width="2" height="67.90" fill="#121212"/>
<rect x="629" y="39.00" width="2" height="67.90" fill="#101010"/>
<rect x="631" y="39.00" width="1" height="67.90" fill="#121212"/>
<rect x="632" y="39.00" width="1" height="67.90" fill="#111111"/>
<rect x="633" y="39.00" width="1" height="67.90" fill="#0f0f0f"/>
<rect x="634" y="39.00" width="1" height="67.90" fill="#0e0e0e"/>
<rect x="635" y="39.00" width="1" height="67.90" fill="#0f0f0f"/>
<rect x="636" y="39.00" width="1" height="67.90" fill="#121212"/>
<rect x="637" y="39.00" width="1" height="67.90" fill="#101010"/>
<rect x="638" y="39.00" width="1" height="67.90" fill="#0f0f0f"/>
<rect x="639" y="39.00" width="2" height="67.90" fill="#161616"/>
<rect x="641" y="39.00" width="1" height="67.90" fill="#151515"/>
<rect x="642" y="39.00" width="1" height="67.90" fill="#141414"/>
<rect x="643" y="39.00" width="1" height="67.90" fill="#121212"/>
<rect x="644" y="39.00" width="1" height="67.90" fill="#111111"/>
<rect x="645" y="39.00" width="2" height="67.90" fill="#101010"/>
<rect x="647" y="39.00" width="1" height="67.90" fill="#151515"/>
<rect x="648" y="39.00" width="1" height="67.90" fill="#121212"/>
<rect x="649" y="39.00" width="1" height="67.90" fill="#101010"/>
<rect x="650" y="39.00" width="2" height="67.90" fill="#0f0f0f"/>
<rect x="652" y="39.00" width="1" height="67.90" fill="#111111"/>
<rect x="653" y="39.00" width="1" height="67.90" fill="#121212"/>
<rect x="654" y="39.00" width="1" height="67.90" fill="#161616"/>
<rect x="655" y="39.00" width="1" height="67.90" fill="#151515"/>
<rect x="656" y="39.00" width="1" height="67.90" fill="#171717"/>
<rect x="657" y="39.00" width="1" height="67.90" fill="#1b1b1b"/>
<rect x="658" y="39.00" width="1" height="67.90" fill="#181818"/>
<rect x="659" y="39.00" width="2" height="67.90" fill="#171717"/>
<rect x="661" y="39.00" width="1" height="67.90" fill="#161616"/>
<rect x="662" y="39.00" width="1" height="67.90" fill="#171717"/>
<rect x="663" y="39.00" width="1" height="67.90" fill="#141414"/>
<rect x="664" y="39.00" width="2" height="67.90" fill="#121212"/>
<rect x="666" y="39.00" width="1" height="67.90" fill="#131313"/>
<rect x="667" y="39.00" width="2" height="67.90" fill="#121212"/>
<rect x="669" y="39.00" width="1" height="67.90" fill="#161616"/>
<rect x="670" y="39.00" width="2" height="67.90" fill="#131313"/>
<rect x="672" y="39.00" width="1" height="67.90" fill="#151515"/>
<rect x="673" y="39.00" width="2" height="67.90" fill="#1b1b1b"/>
<rect x="675" y="39.00" width="1" height="67.90" fill="#191919"/>
<rect x="676" y="39.00" width="1" height="67.90" fill="#151515"/>
<rect x="677" y="39.00" width="1" height="67.90" fill="#131313"/>
<rect x="678" y="39.00" width="1" height="67.90" fill="#121212"/>
<rect x="679" y="39.00" width="1" height="67.90" fill="#111111"/>
<rect x="680" y="39.00" width="1" height="67.90" fill="#141414"/>
<rect x="681" y="39.00" width="1" height="67.90" fill="#171717"/>
<rect x="682" y="39.00" width="1" height="67.90" fill="#1e1e1e"/>
<rect x="683" y="39.00" width="1" height="67.90" fill="#262626"/>
<rect x="684" y="39.00" width="1" height="67.90" fill="#1a1a1a"/>
<rect x="685" y="39.00" width="1" height="67.90" fill="#161616"/>
<rect x="686" y="39.00" width="1" height="67.90" fill="#151515"/>
<rect x="687" y="39.00" width="1" height="67.90" fill="#171717"/>
<rect x="688" y="39.00" width="1" height="67.90" fill="#151515"/>
<rect x="689" y="39.00" width="1" height="67.90" fill="#141414"/>
<rect x="690" y="39.00" width="1" height="67.90" fill="#131313"/>
<rect x="691" y="39.00" width="1" height="67.90" fill="#141414"/>
<rect x="692" y="39.00" width="1" height="67.90" fill="#121212"/>
<rect x="693" y="39.00" width="2" height="67.90" fill="#131313"/>
<rect x="695" y="39.00" width="1" height="67.90" fill="#121212"/>
<rect x="696" y="39.00" width="1" height="67.90" fill="#141414"/>
<rect x="697" y="39.00" width="1" height="67.90" fill="#171717"/>
<rect x="698" y="39.00" width="2" height="67.90" fill="#1a1a1a"/>
<rect x="700" y="39.00" width="1" height="67.90" fill="#161616"/>
<rect x="701" y="39.00" width="4" height="67.90" fill="#141414"/>
<rect x="705" y="39.00" width="1" height="67.90" fill="#151515"/>
<rect x="706" y="39.00" width="1" height="67.90" fill="#131313"/>
<rect x="707" y="39.00" width="1" height="67.90" fill="#141414"/>
<rect x="708" y="39.00" width="1" height="67.90" fill="#131313"/>
<rect x="709" y="39.00" width="1" height="67.90" fill="#121212"/>
<rect x="710" y="39.00" width="1" height="67.90" fill="#141414"/>
<rect x="711" y="39.00" width="1" height="67.90" fill="#1c1c1c"/>
<rect x="712" y="39.00" width="1" height="67.90" fill="#232323"/>
<rect x="713" y="39.00" width="1" height="67.90" fill="#282828"/>
<rect x="714" y="39.00" width="1" height="67.90" fill="#1f1f1f"/>
<rect x="715" y="39.00" width="1" height="67.90" fill="#1a1a1a"/>
<rect x="716" y="39.00" width="1" height="67.90" fill="#171717"/>
<rect x="717" y="39.00" width="1" height="67.90" fill="#191919"/>
<rect x="718" y="39.00" width="2" height="67.90" fill="#171717"/>
<rect x="720" y="39.00" width="1" height="67.90" fill="#181818"/>
<rect x="721" y="39.00" width="2" height="67.90" fill="#191919"/>
<rect x="723" y="39.00" width="1" height="67.90" fill="#181818"/>
<rect x="724" y="39.00" width="1" height="67.90" fill="#171717"/>
<rect x="725" y="39.00" width="1" height="67.90" fill="#232323"/>
<rect x="726" y="39.00" width="1" height="67.90" fill="#1c1c1c"/>
<rect x="727" y="39.00" width="1" height="67.90" fill="#191919"/>
<rect x="728" y="39.00" width="1" height="67.90" fill="#1c1c1c"/>
<rect x="729" y="39.00" width="4" height="67.90" fill="#191919"/>
<rect x="733" y="39.00" width="1" height="67.90" fill="#1c1c1c"/>
<rect x="734" y="39.00" width="1" height="67.90" fill="#1e1e1e"/>
<rect x="735" y="39.00" width="1" height="67.90" fill="#1f1f1f"/>
<rect x="736" y="39.00" width="1" height="67.90" fill="#222222"/>
<rect x="737" y="39.00" width="2" height="67.90" fill="#1e1e1e"/>
<rect x="739" y="39.00" width="1" height="67.90" fill="#222222"/>
<rect x="740" y="39.00" width="1" height="67.90" fill="#262626"/>
<rect x="741" y="39.00" width="1" height="67.90" fill="#1f1f1f"/>
<rect x="742" y="39.00" width="1" height="67.90" fill="#181818"/>
<rect x="743" y="39.00" width="1" height="67.90" fill="#151515"/>
<rect x="744" y="39.00" width="4" height="67.90" fill="#161616"/>
<rect x="748" y="39.00" width="1" height="67.90" fill="#181818"/>
<rect x="749" y="39.00" width="1" height="67.90" fill="#1c1c1c"/>
<rect x="750" y="39.00" width="1" height="67.90" fill="#212121"/>
<rect x="751" y="39.00" width="1" height="67.90" fill="#181818"/>
<rect x="752" y="39.00" width="2" height="67.90" fill="#171717"/>
<rect x="754" y="39.00" width="1" height="67.90" fill="#1a1a1a"/>
<rect x="755" y="39.00" width="2" height="67.90" fill="#171717"/>
<rect x="757" y="39.00" width="2" height="67.90" fill="#181818"/>
<rect x="759" y="39.00" width="1" height="67.90" fill="#1c1c1c"/>
<rect x="760" y="39.00" width="1" height="67.90" fill="#252525"/>
<rect x="761" y="39.00" width="1" height="67.90" fill="#303030"/>
<rect x="762" y="39.00" width="1" height="67.90" fill="#272727"/>
<rect x="763" y="39.00" width="1" height="67.90" fill="#252525"/>
<rect x="764" y="39.00" width="2" height="67.90" fill="#242424"/>
<rect x="766" y="39.00" width="1" height="67.90" fill="#212121"/>
<rect x="767" y="39.00" width="1" height="67.90" fill="#1d1d1d"/>
<rect x="768" y="39.00" width="3" height="67.90" fill="#1a1a1a"/>
<rect x="771" y="39.00" width="1" height="67.90" fill="#1b1b1b"/>
<rect x="772" y="39.00" width="1" height="67.90" fill="#1f1f1f"/>
<rect x="773" y="39.00" width="1" height="67.90" fill="#2f2f2f"/>
<rect x="774" y="39.00" width="3" height="67.90" fill="#2e2e2e"/>
<rect x="435.50" y="39.50" width="148.00" height="66.90" fill="none" stroke="#000" stroke-opacity="0.550" stroke-width="1"/>
<rect x="585.50" y="39.50" width="191.00" height="66.90" fill="none" stroke="#000" stroke-opacity="0.550" stroke-width="1"/>
<rect x="435" y="129.54" width="1" height="67.94" fill="#ebebeb"/>
<rect x="436" y="129.54" width="1" height="67.94" fill="#eeeeee"/>
<rect x="437" y="129.54" width="2" height="67.94" fill="#efefef"/>
<rect x="439" y="129.54" width="1" height="67.94" fill="#eaeaea"/>
<rect x="440" y="129.54" width="1" height="67.94" fill="#ededed"/>
<rect x="441" y="129.54" width="1" height="67.94" fill="#efefef"/>
<rect x="442" y="129.54" width="1" height="67.94" fill="#f0f0f0"/>
<rect x="443" y="129.54" width="2" height="67.94" fill="#f1f1f1"/>
<rect x="445" y="129.54" width="1" height="67.94" fill="#f0f0f0"/>
<rect x="446" y="129.54" width="3" height="67.94" fill="#efefef"/>
<rect x="449" y="129.54" width="1" height="67.94" fill="#f0f0f0"/>
<rect x="450" y="129.54" width="1" height="67.94" fill="#f1f1f1"/>
<rect x="451" y="129.54" width="1" height="67.94" fill="#f0f0f0"/>
<rect x="452" y="129.54" width="2" height="67.94" fill="#efefef"/>
<rect x="454" y="129.54" width="3" height="67.94" fill="#f0f0f0"/>
<rect x="457" y="129.54" width="2" height="67.94" fill="#f1f1f1"/>
<rect x="459" y="129.54" width="1" height="67.94" fill="#f0f0f0"/>
<rect x="460" y="129.54" width="1" height="67.94" fill="#efefef"/>
<rect x="461" y="129.54" width="1" height="67.94" fill="#f0f0f0"/>
<rect x="462" y="129.54" width="3" height="67.94" fill="#efefef"/>
<rect x="465" y="129.54" width="3" height="67.94" fill="#f0f0f0"/>
<rect x="468" y="129.54" width="2" height="67.94" fill="#f1f1f1"/>
<rect x="470" y="129.54" width="1" height="67.94" fill="#f0f0f0"/>
<rect x="471" y="129.54" width="1" height="67.94" fill="#efefef"/>
<rect x="472" y="129.54" width="2" height="67.94" fill="#f0f0f0"/>
<rect x="474" y="129.54" width="1" height="67.94" fill="#efefef"/>
<rect x="475" y="129.54" width="1" height="67.94" fill="#eeeeee"/>
<rect x="476" y="129.54" width="1" height="67.94" fill="#ededed"/>
<rect x="477" y="129.54" width="2" height="67.94" fill="#eeeeee"/>
<rect x="479" y="129.54" width="2" height="67.94" fill="#efefef"/>
<rect x="481" y="129.54" width="2" height="67.94" fill="#f0f0f0"/>
<rect x="483" y="129.54" width="2" height="67.94" fill="#efefef"/>
<rect x="485" y="129.54" width="1" height="67.94" fill="#f0f0f0"/>
<rect x="486" y="129.54" width="1" height="67.94" fill="#f1f1f1"/>
<rect x="487" y="129.54" width="3" height="67.94" fill="#f0f0f0"/>
<rect x="490" y="129.54" width="1" height="67.94" fill="#f1f1f1"/>
<rect x="491" y="129.54" width="1" height="67.94" fill="#f0f0f0"/>
<rect x="492" y="129.54" width="2" height="67.94" fill="#f1f1f1"/>
<rect x="494" y="129.54" width="2" height="67.94" fill="#f0f0f0"/>
<rect x="496" y="129.54" width="1" height="67.94" fill="#efefef"/>
<rect x="497" y="129.54" width="2" height="67.94" fill="#eeeeee"/>
<rect x="499" y="129.54" width="7" height="67.94" fill="#efefef"/>
<rect x="506" y="129.54" width="4" height="67.94" fill="#eeeeee"/>
<rect x="510" y="129.54" width="1" height="67.94" fill="#efefef"/>
<rect x="511" y="129.54" width="1" height="67.94" fill="#f0f0f0"/>
<rect x="512" y="129.54" width="1" height="67.94" fill="#f1f1f1"/>
<rect x="513" y="129.54" width="5" height="67.94" fill="#efefef"/>
<rect x="518" y="129.54" width="3" height="67.94" fill="#eeeeee"/>
<rect x="521" y="129.54" width="2" height="67.94" fill="#ededed"/>
<rect x="523" y="129.54" width="1" height="67.94" fill="#ececec"/>
<rect x="524" y="129.54" width="4" height="67.94" fill="#ededed"/>
<rect x="528" y="129.54" width="1" height="67.94" fill="#eeeeee"/>
<rect x="529" y="129.54" width="2" height="67.94" fill="#ededed"/>
<rect x="531" y="129.54" width="1" height="67.94" fill="#efefef"/>
<rect x="532" y="129.54" width="1" height="67.94" fill="#eeeeee"/>
<rect x="533" y="129.54" width="2" height="67.94" fill="#ededed"/>
<rect x="535" y="129.54" width="1" height="67.94" fill="#efefef"/>
<rect x="536" y="129.54" width="1" height="67.94" fill="#eeeeee"/>
<rect x="537" y="129.54" width="3" height="67.94" fill="#ededed"/>
<rect x="540" y="129.54" width="2" height="67.94" fill="#efefef"/>
<rect x="542" y="129.54" width="1" height="67.94" fill="#f0f0f0"/>
<rect x="543" y="129.54" width="2" height="67.94" fill="#eeeeee"/>
<rect x="545" y="129.54" width="1" height="67.94" fill="#efefef"/>
<rect x="546" y="129.54" width="1" height="67.94" fill="#eeeeee"/>
<rect x="547" y="129.54" width="1" height="67.94" fill="#ededed"/>
<rect x="548" y="129.54" width="2" height="67.94" fill="#ececec"/>
<rect x="550" y="129.54" width="1" height="67.94" fill="#ededed"/>
<rect x="551" y="129.54" width="2" height="67.94" fill="#efefef"/>
<rect x="553" y="129.54" width="1" height="67.94" fill="#eeeeee"/>
<rect x="554" y="129.54" width="1" height="67.94" fill="#ededed"/>
<rect x="555" y="129.54" width="1" height="67.94" fill="#eeeeee"/>
<rect x="556" y="129.54" width="1" height="67.94" fill="#ededed"/>
<rect x="557" y="129.54" width="1" height="67.94" fill="#e9e9e9"/>
<rect x="558" y="129.54" width="1" height="67.94" fill="#ececec"/>
<rect x="559" y="129.54" width="2" height="67.94" fill="#ededed"/>
<rect x="561" y="129.54" width="1" height="67.94" fill="#efefef"/>
<rect x="562" y="129.54" width="1" height="67.94" fill="#ededed"/>
<rect x="563" y="129.54" width="1" height="67.94" fill="#ececec"/>
<rect x="564" y="129.54" width="1" height="67.94" fill="#ebebeb"/>
<rect x="565" y="129.54" width="1" height="67.94" fill="#e9e9e9"/>
<rect x="566" y="129.54" width="2" height="67.94" fill="#e8e8e8"/>
<rect x="568" y="129.54" width="1" height="67.94" fill="#eaeaea"/>
<rect x="569" y="129.54" width="3" height="67.94" fill="#ebebeb"/>
<rect x="572" y="129.54" width="1" height="67.94" fill="#eaeaea"/>
<rect x="573" y="129.54" width="2" height="67.94" fill="#ececec"/>
<rect x="575" y="129.54" width="1" height="67.94" fill="#ebebeb"/>
<rect x="576" y="129.54" width="2" height="67.94" fill="#eaeaea"/>
<rect x="578" y="129.54" width="1" height="67.94" fill="#e9e9e9"/>
<rect x="579" y="129.54" width="1" height="67.94" fill="#eaeaea"/>
<rect x="580" y="129.54" width="1" height="67.94" fill="#e8e8e8"/>
<rect x="581" y="129.54" width="1" height="67.94" fill="#eaeaea"/>
<rect x="582" y="129.54" width="2" height="67.94" fill="#ececec"/>
<rect x="584" y="129.54" width="1" height="67.94" fill="#ffffff"/>
<rect x="585" y="129.54" width="1" height="67.94" fill="#eaeaea"/>
<rect x="586" y="129.54" width="2" height="67.94" fill="#ebebeb"/>
<rect x="588" y="129.54" width="3" height="67.94" fill="#ececec"/>
<rect x="591" y="129.54" width="1" height="67.94" fill="#ebebeb"/>
<rect x="592" y="129.54" width="1" height="67.94" fill="#eaeaea"/>
<rect x="593" y="129.54" width="1" height="67.94" fill="#e8e8e8"/>
<rect x="594" y="129.54" width="1" height="67.94" fill="#e6e6e6"/>
<rect x="595" y="129.54" width="1" height="67.94" fill="#e8e8e8"/>
<rect x="596" y="129.54" width="1" height="67.94" fill="#eaeaea"/>
<rect x="597" y="129.54" width="1" height="67.94" fill="#ececec"/>
<rect x="598" y="129.54" width="2" height="67.94" fill="#ededed"/>
<rect x="600" y="129.54" width="1" height="67.94" fill="#ececec"/>
<rect x="601" y="129.54" width="1" height="67.94" fill="#ebebeb"/>
<rect x="602" y="129.54" width="2" height="67.94" fill="#ececec"/>
<rect x="604" y="129.54" width="2" height="67.94" fill="#ededed"/>
<rect x="606" y="129.54" width="1" height="67.94" fill="#ebebeb"/>
<rect x="607" y="129.54" width="2" height="67.94" fill="#e9e9e9"/>
<rect x="609" y="129.54" width="1" height="67.94" fill="#ebebeb"/>
<rect x="610" y="129.54" width="2" height="67.94" fill="#eaeaea"/>
<rect x="612" y="129.54" width="1" height="67.94" fill="#e9e9e9"/>
<rect x="613" y="129.54" width="1" height="67.94" fill="#e2e2e2"/>
<rect x="614" y="129.54" width="1" height="67.94" fill="#e5e5e5"/>
<rect x="615" y="129.54" width="1" height="67.94" fill="#e7e7e7"/>
<rect x="616" y="129.54" width="1" height="67.94" fill="#eaeaea"/>
<rect x="617" y="129.54" width="1" height="67.94" fill="#ebebeb"/>
<rect x="618" y="129.54" width="1" height="67.94" fill="#e6e6e6"/>
<rect x="619" y="129.54" width="1" height="67.94" fill="#e3e3e3"/>
<rect x="620" y="129.54" width="1" height="67.94" fill="#e0e0e0"/>
<rect x="621" y="129.54" width="1" height="67.94" fill="#e4e4e4"/>
<rect x="622" y="129.54" width="1" height="67.94" fill="#e8e8e8"/>
<rect x="623" y="129.54" width="1" height="67.94" fill="#ebebeb"/>
<rect x="624" y="129.54" width="1" height="67.94" fill="#eaeaea"/>
<rect x="625" y="129.54" width="3" height="67.94" fill="#e9e9e9"/>
<rect x="628" y="129.54" width="1" height="67.94" fill="#e8e8e8"/>
<rect x="629" y="129.54" width="2" height="67.94" fill="#eaeaea"/>
<rect x="631" y="129.54" width="2" height="67.94" fill="#e9e9e9"/>
<rect x="633" y="129.54" width="3" height="67.94" fill="#eaeaea"/>
<rect x="636" y="129.54" width="1" height="67.94" fill="#e8e8e8"/>
<rect x="637" y="129.54" width="1" height="67.94" fill="#e9e9e9"/>
<rect x="638" y="129.54" width="1" height="67.94" fill="#eaeaea"/>
<rect x="639" y="129.54" width="3" height="67.94" fill="#e6e6e6"/>
<rect x="642" y="129.54" width="1" height="67.94" fill="#e7e7e7"/>
<rect x="643" y="129.54" width="1" height="67.94" fill="#e8e8e8"/>
<rect x="644" y="129.54" width="3" height="67.94" fill="#e9e9e9"/>
<rect x="647" y="129.54" width="1" height="67.94" fill="#e6e6e6"/>
<rect x="648" y="129.54" width="1" height="67.94" fill="#e7e7e7"/>
<rect x="649" y="129.54" width="1" height="67.94" fill="#e8e8e8"/>
<rect x="650" y="129.54" width="2" height="67.94" fill="#e9e9e9"/>
<rect x="652" y="129.54" width="1" height="67.94" fill="#e8e8e8"/>
<rect x="653" y="129.54" width="1" height="67.94" fill="#e7e7e7"/>
<rect x="654" y="129.54" width="2" height="67.94" fill="#e6e6e6"/>
<rect x="656" y="129.54" width="1" height="67.94" fill="#e4e4e4"/>
<rect x="657" y="129.54" width="1" height="67.94" fill="#e3e3e3"/>
<rect x="658" y="129.54" width="3" height="67.94" fill="#e5e5e5"/>
<rect x="661" y="129.54" width="2" height="67.94" fill="#e4e4e4"/>
<rect x="663" y="129.54" width="1" height="67.94" fill="#e5e5e5"/>
<rect x="664" y="129.54" width="2" height="67.94" fill="#e6e6e6"/>
<rect x="666" y="129.54" width="1" height="67.94" fill="#e5e5e5"/>
<rect x="667" y="129.54" width="2" height="67.94" fill="#e6e6e6"/>
<rect x="669" y="129.54" width="1" height="67.94" fill="#e5e5e5"/>
<rect x="670" y="129.54" width="2" height="67.94" fill="#e6e6e6"/>
<rect x="672" y="129.54" width="1" height="67.94" fill="#e5e5e5"/>
<rect x="673" y="129.54" width="3" height="67.94" fill="#e2e2e2"/>
<rect x="676" y="129.54" width="1" height="67.94" fill="#e5e5e5"/>
<rect x="677" y="129.54" width="3" height="67.94" fill="#e6e6e6"/>
<rect x="680" y="129.54" width="1" height="67.94" fill="#e5e5e5"/>
<rect x="681" y="129.54" width="1" height="67.94" fill="#e3e3e3"/>
<rect x="682" y="129.54" width="1" height="67.94" fill="#e0e0e0"/>
<rect x="683" y="129.54" width="1" height="67.94" fill="#dcdcdc"/>
<rect x="684" y="129.54" width="1" height="67.94" fill="#e2e2e2"/>
<rect x="685" y="129.54" width="2" height="67.94" fill="#e4e4e4"/>
<rect x="687" y="129.54" width="1" height="67.94" fill="#e3e3e3"/>
<rect x="688" y="129.54" width="2" height="67.94" fill="#e5e5e5"/>
<rect x="690" y="129.54" width="1" height="67.94" fill="#e6e6e6"/>
<rect x="691" y="129.54" width="1" height="67.94" fill="#e4e4e4"/>
<rect x="692" y="129.54" width="1" height="67.94" fill="#e6e6e6"/>
<rect x="693" y="129.54" width="2" height="67.94" fill="#e5e5e5"/>
<rect x="695" y="129.54" width="1" height="67.94" fill="#e6e6e6"/>
<rect x="696" y="129.54" width="1" height="67.94" fill="#e5e5e5"/>
<rect x="697" y="129.54" width="1" height="67.94" fill="#e4e4e4"/>
<rect x="698" y="129.54" width="1" height="67.94" fill="#e2e2e2"/>
<rect x="699" y="129.54" width="1" height="67.94" fill="#e3e3e3"/>
<rect x="700" y="129.54" width="1" height="67.94" fill="#e4e4e4"/>
<rect x="701" y="129.54" width="1" height="67.94" fill="#e5e5e5"/>
<rect x="702" y="129.54" width="1" height="67.94" fill="#e4e4e4"/>
<rect x="703" y="129.54" width="2" height="67.94" fill="#e5e5e5"/>
<rect x="705" y="129.54" width="1" height="67.94" fill="#e4e4e4"/>
<rect x="706" y="129.54" width="1" height="67.94" fill="#e5e5e5"/>
<rect x="707" y="129.54" width="1" height="67.94" fill="#e4e4e4"/>
<rect x="708" y="129.54" width="2" height="67.94" fill="#e5e5e5"/>
<rect x="710" y="129.54" width="1" height="67.94" fill="#e4e4e4"/>
<rect x="711" y="129.54" width="1" height="67.94" fill="#e0e0e0"/>
<rect x="712" y="129.54" width="1" height="67.94" fill="#dddddd"/>
<rect x="713" y="129.54" width="1" height="67.94" fill="#dbdbdb"/>
<rect x="714" y="129.54" width="1" height="67.94" fill="#dedede"/>
<rect x="715" y="129.54" width="1" height="67.94" fill="#e0e0e0"/>
<rect x="716" y="129.54" width="1" height="67.94" fill="#e2e2e2"/>
<rect x="717" y="129.54" width="1" height="67.94" fill="#e0e0e0"/>
<rect x="718" y="129.54" width="2" height="67.94" fill="#e1e1e1"/>
<rect x="720" y="129.54" width="4" height="67.94" fill="#e0e0e0"/>
<rect x="724" y="129.54" width="1" height="67.94" fill="#e1e1e1"/>
<rect x="725" y="129.54" width="1" height="67.94" fill="#dbdbdb"/>
<rect x="726" y="129.54" width="1" height="67.94" fill="#dedede"/>
<rect x="727" y="129.54" width="1" height="67.94" fill="#e0e0e0"/>
<rect x="728" y="129.54" width="1" height="67.94" fill="#dddddd"/>
<rect x="729" y="129.54" width="4" height="67.94" fill="#dfdfdf"/>
<rect x="733" y="129.54" width="1" height="67.94" fill="#dedede"/>
<rect x="734" y="129.54" width="2" height="67.94" fill="#dddddd"/>
<rect x="736" y="129.54" width="1" height="67.94" fill="#dbdbdb"/>
<rect x="737" y="129.54" width="1" height="67.94" fill="#dddddd"/>
<rect x="738" y="129.54" width="1" height="67.94" fill="#dedede"/>
<rect x="739" y="129.54" width="1" height="67.94" fill="#dcdcdc"/>
<rect x="740" y="129.54" width="1" height="67.94" fill="#dadada"/>
<rect x="741" y="129.54" width="1" height="67.94" fill="#dddddd"/>
<rect x="742" y="129.54" width="1" height="67.94" fill="#e1e1e1"/>
<rect x="743" y="129.54" width="3" height="67.94" fill="#e2e2e2"/>
<rect x="746" y="129.54" width="1" height="67.94" fill="#e1e1e1"/>
<rect x="747" y="129.54" width="1" height="67.94" fill="#e2e2e2"/>
<rect x="748" y="129.54" width="1" height="67.94" fill="#e1e1e1"/>
<rect x="749" y="129.54" width="1" height="67.94" fill="#dfdfdf"/>
<rect x="750" y="129.54" width="1" height="67.94" fill="#dddddd"/>
<rect x="751" y="129.54" width="1" height="67.94" fill="#e1e1e1"/>
<rect x="752" y="129.54" width="2" height="67.94" fill="#e2e2e2"/>
<rect x="754" y="129.54" width="1" height="67.94" fill="#e0e0e0"/>
<rect x="755" y="129.54" width="2" height="67.94" fill="#e1e1e1"/>
<rect x="757" y="129.54" width="2" height="67.94" fill="#e0e0e0"/>
<rect x="759" y="129.54" width="1" height="67.94" fill="#dedede"/>
<rect x="760" y="129.54" width="1" height="67.94" fill="#dadada"/>
<rect x="761" y="129.54" width="1" height="67.94" fill="#d5d5d5"/>
<rect x="762" y="129.54" width="2" height="67.94" fill="#d9d9d9"/>
<rect x="764" y="129.54" width="2" height="67.94" fill="#dadada"/>
<rect x="766" y="129.54" width="1" height="67.94" fill="#dbdbdb"/>
<rect x="767" y="129.54" width="1" height="67.94" fill="#dcdcdc"/>
<rect x="768" y="129.54" width="4" height="67.94" fill="#dddddd"/>
<rect x="772" y="129.54" width="1" height="67.94" fill="#dbdbdb"/>
<rect x="773" y="129.54" width="1" height="67.94" fill="#d3d3d3"/>
<rect x="774" y="129.54" width="3" height="67.94" fill="#d4d4d4"/>
<rect x="435.50" y="130.04" width="148.00" height="66.94" fill="none" stroke="#000" stroke-opacity="0.022" stroke-width="1"/>
<rect x="585.50" y="130.04" width="191.00" height="66.94" fill="none" stroke="#000" stroke-opacity="0.022" stroke-width="1"/>
<rect x="435" y="235.23" width="1" height="67.94" fill="#eaeaea"/>
<rect x="436" y="235.23" width="1" height="67.94" fill="#eeeeee"/>
<rect x="437" y="235.23" width="2" height="67.94" fill="#f1f1f1"/>
<rect x="439" y="235.23" width="1" height="67.94" fill="#e9e9e9"/>
<rect x="440" y="235.23" width="1" height="67.94" fill="#ededed"/>
<rect x="441" y="235.23" width="1" height="67.94" fill="#f1f1f1"/>
<rect x="442" y="235.23" width="1" height="67.94" fill="#f2f2f2"/>
<rect x="443" y="235.23" width="2" height="67.94" fill="#f4f4f4"/>
<rect x="445" y="235.23" width="1" height="67.94" fill="#f3f3f3"/>
<rect x="446" y="235.23" width="3" height="67.94" fill="#f2f2f2"/>
<rect x="449" y="235.23" width="1" height="67.94" fill="#f3f3f3"/>
<rect x="450" y="235.23" width="1" height="67.94" fill="#f4f4f4"/>
<rect x="451" y="235.23" width="1" height="67.94" fill="#f3f3f3"/>
<rect x="452" y="235.23" width="3" height="67.94" fill="#f2f2f2"/>
<rect x="455" y="235.23" width="2" height="67.94" fill="#f3f3f3"/>
<rect x="457" y="235.23" width="1" height="67.94" fill="#f4f4f4"/>
<rect x="458" y="235.23" width="1" height="67.94" fill="#f3f3f3"/>
<rect x="459" y="235.23" width="1" height="67.94" fill="#f2f2f2"/>
<rect x="460" y="235.23" width="1" height="67.94" fill="#f0f0f0"/>
<rect x="461" y="235.23" width="4" height="67.94" fill="#f1f1f1"/>
<rect x="465" y="235.23" width="1" height="67.94" fill="#f2f2f2"/>
<rect x="466" y="235.23" width="5" height="67.94" fill="#f3f3f3"/>
<rect x="471" y="235.23" width="3" height="67.94" fill="#f2f2f2"/>
<rect x="474" y="235.23" width="1" height="67.94" fill="#f1f1f1"/>
<rect x="475" y="235.23" width="1" height="67.94" fill="#f0f0f0"/>
<rect x="476" y="235.23" width="1" height="67.94" fill="#eeeeee"/>
<rect x="477" y="235.23" width="1" height="67.94" fill="#efefef"/>
<rect x="478" y="235.23" width="1" height="67.94" fill="#f0f0f0"/>
<rect x="479" y="235.23" width="1" height="67.94" fill="#f1f1f1"/>
<rect x="480" y="235.23" width="3" height="67.94" fill="#f2f2f2"/>
<rect x="483" y="235.23" width="1" height="67.94" fill="#f1f1f1"/>
<rect x="484" y="235.23" width="2" height="67.94" fill="#f2f2f2"/>
<rect x="486" y="235.23" width="2" height="67.94" fill="#f3f3f3"/>
<rect x="488" y="235.23" width="1" height="67.94" fill="#f2f2f2"/>
<rect x="489" y="235.23" width="1" height="67.94" fill="#f3f3f3"/>
<rect x="490" y="235.23" width="1" height="67.94" fill="#f4f4f4"/>
<rect x="491" y="235.23" width="2" height="67.94" fill="#f3f3f3"/>
<rect x="493" y="235.23" width="1" height="67.94" fill="#f4f4f4"/>
<rect x="494" y="235.23" width="1" height="67.94" fill="#f3f3f3"/>
<rect x="495" y="235.23" width="1" height="67.94" fill="#f1f1f1"/>
<rect x="496" y="235.23" width="1" height="67.94" fill="#f0f0f0"/>
<rect x="497" y="235.23" width="1" height="67.94" fill="#eeeeee"/>
<rect x="498" y="235.23" width="1" height="67.94" fill="#f0f0f0"/>
<rect x="499" y="235.23" width="1" height="67.94" fill="#f1f1f1"/>
<rect x="500" y="235.23" width="6" height="67.94" fill="#f2f2f2"/>
<rect x="506" y="235.23" width="3" height="67.94" fill="#efefef"/>
<rect x="509" y="235.23" width="1" height="67.94" fill="#f0f0f0"/>
<rect x="510" y="235.23" width="1" height="67.94" fill="#f2f2f2"/>
<rect x="511" y="235.23" width="2" height="67.94" fill="#f3f3f3"/>
<rect x="513" y="235.23" width="1" height="67.94" fill="#f1f1f1"/>
<rect x="514" y="235.23" width="5" height="67.94" fill="#f2f2f2"/>
<rect x="519" y="235.23" width="1" height="67.94" fill="#f1f1f1"/>
<rect x="520" y="235.23" width="1" height="67.94" fill="#f0f0f0"/>
<rect x="521" y="235.23" width="2" height="67.94" fill="#eeeeee"/>
<rect x="523" y="235.23" width="1" height="67.94" fill="#ededed"/>
<rect x="524" y="235.23" width="3" height="67.94" fill="#efefef"/>
<rect x="527" y="235.23" width="1" height="67.94" fill="#f0f0f0"/>
<rect x="528" y="235.23" width="3" height="67.94" fill="#f1f1f1"/>
<rect x="531" y="235.23" width="1" height="67.94" fill="#f2f2f2"/>
<rect x="532" y="235.23" width="2" height="67.94" fill="#f1f1f1"/>
<rect x="534" y="235.23" width="1" height="67.94" fill="#f0f0f0"/>
<rect x="535" y="235.23" width="1" height="67.94" fill="#f1f1f1"/>
<rect x="536" y="235.23" width="1" height="67.94" fill="#f0f0f0"/>
<rect x="537" y="235.23" width="3" height="67.94" fill="#efefef"/>
<rect x="540" y="235.23" width="1" height="67.94" fill="#f1f1f1"/>
<rect x="541" y="235.23" width="1" height="67.94" fill="#f2f2f2"/>
<rect x="542" y="235.23" width="1" height="67.94" fill="#f3f3f3"/>
<rect x="543" y="235.23" width="1" height="67.94" fill="#f1f1f1"/>
<rect x="544" y="235.23" width="2" height="67.94" fill="#f2f2f2"/>
<rect x="546" y="235.23" width="1" height="67.94" fill="#f1f1f1"/>
<rect x="547" y="235.23" width="1" height="67.94" fill="#efefef"/>
<rect x="548" y="235.23" width="2" height="67.94" fill="#ededed"/>
<rect x="550" y="235.23" width="1" height="67.94" fill="#efefef"/>
<rect x="551" y="235.23" width="3" height="67.94" fill="#f1f1f1"/>
<rect x="554" y="235.23" width="1" height="67.94" fill="#f0f0f0"/>
<rect x="555" y="235.23" width="1" height="67.94" fill="#f1f1f1"/>
<rect x="556" y="235.23" width="1" height="67.94" fill="#efefef"/>
<rect x="557" y="235.23" width="1" height="67.94" fill="#eaeaea"/>
<rect x="558" y="235.23" width="1" height="67.94" fill="#ededed"/>
<rect x="559" y="235.23" width="1" height="67.94" fill="#efefef"/>
<rect x="560" y="235.23" width="1" height="67.94" fill="#f0f0f0"/>
<rect x="561" y="235.23" width="1" height="67.94" fill="#f2f2f2"/>
<rect x="562" y="235.23" width="1" height="67.94" fill="#f0f0f0"/>
<rect x="563" y="235.23" width="1" height="67.94" fill="#efefef"/>
<rect x="564" y="235.23" width="1" height="67.94" fill="#ececec"/>
<rect x="565" y="235.23" width="1" height="67.94" fill="#e9e9e9"/>
<rect x="566" y="235.23" width="1" height="67.94" fill="#e7e7e7"/>
<rect x="567" y="235.23" width="1" height="67.94" fill="#e8e8e8"/>
<rect x="568" y="235.23" width="1" height="67.94" fill="#ececec"/>
<rect x="569" y="235.23" width="2" height="67.94" fill="#efefef"/>
<rect x="571" y="235.23" width="1" height="67.94" fill="#eeeeee"/>
<rect x="572" y="235.23" width="1" height="67.94" fill="#ececec"/>
<rect x="573" y="235.23" width="2" height="67.94" fill="#efefef"/>
<rect x="575" y="235.23" width="1" height="67.94" fill="#eeeeee"/>
<rect x="576" y="235.23" width="1" height="67.94" fill="#ececec"/>
<rect x="577" y="235.23" width="3" height="67.94" fill="#ebebeb"/>
<rect x="580" y="235.23" width="1" height="67.94" fill="#e8e8e8"/>
<rect x="581" y="235.23" width="1" height="67.94" fill="#ececec"/>
<rect x="582" y="235.23" width="2" height="67.94" fill="#efefef"/>
<rect x="584" y="235.23" width="1" height="67.94" fill="#ffffff"/>
<rect x="585" y="235.23" width="2" height="67.94" fill="#eeeeee"/>
<rect x="587" y="235.23" width="1" height="67.94" fill="#efefef"/>
<rect x="588" y="235.23" width="2" height="67.94" fill="#f0f0f0"/>
<rect x="590" y="235.23" width="1" height="67.94" fill="#efefef"/>
<rect x="591" y="235.23" width="1" height="67.94" fill="#eeeeee"/>
<rect x="592" y="235.23" width="1" height="67.94" fill="#ececec"/>
<rect x="593" y="235.23" width="1" height="67.94" fill="#e9e9e9"/>
<rect x="594" y="235.23" width="1" height="67.94" fill="#e5e5e5"/>
<rect x="595" y="235.23" width="1" height="67.94" fill="#e8e8e8"/>
<rect x="596" y="235.23" width="1" height="67.94" fill="#ececec"/>
<rect x="597" y="235.23" width="1" height="67.94" fill="#eeeeee"/>
<rect x="598" y="235.23" width="1" height="67.94" fill="#f1f1f1"/>
<rect x="599" y="235.23" width="1" height="67.94" fill="#f0f0f0"/>
<rect x="600" y="235.23" width="2" height="67.94" fill="#efefef"/>
<rect x="602" y="235.23" width="4" height="67.94" fill="#f0f0f0"/>
<rect x="606" y="235.23" width="1" height="67.94" fill="#ededed"/>
<rect x="607" y="235.23" width="1" height="67.94" fill="#eaeaea"/>
<rect x="608" y="235.23" width="1" height="67.94" fill="#e9e9e9"/>
<rect x="609" y="235.23" width="2" height="67.94" fill="#ededed"/>
<rect x="611" y="235.23" width="1" height="67.94" fill="#eeeeee"/>
<rect x="612" y="235.23" width="1" height="67.94" fill="#ececec"/>
<rect x="613" y="235.23" width="1" height="67.94" fill="#e0e0e0"/>
<rect x="614" y="235.23" width="1" height="67.94" fill="#e3e3e3"/>
<rect x="615" y="235.23" width="1" height="67.94" fill="#e8e8e8"/>
<rect x="616" y="235.23" width="1" height="67.94" fill="#ededed"/>
<rect x="617" y="235.23" width="1" height="67.94" fill="#eeeeee"/>
<rect x="618" y="235.23" width="1" height="67.94" fill="#e7e7e7"/>
<rect x="619" y="235.23" width="1" height="67.94" fill="#e1e1e1"/>
<rect x="620" y="235.23" width="1" height="67.94" fill="#dddddd"/>
<rect x="621" y="235.23" width="1" height="67.94" fill="#e4e4e4"/>
<rect x="622" y="235.23" width="1" height="67.94" fill="#eaeaea"/>
<rect x="623" y="235.23" width="1" height="67.94" fill="#efefef"/>
<rect x="624" y="235.23" width="1" height="67.94" fill="#eeeeee"/>
<rect x="625" y="235.23" width="1" height="67.94" fill="#ededed"/>
<rect x="626" y="235.23" width="1" height="67.94" fill="#ececec"/>
<rect x="627" y="235.23" width="2" height="67.94" fill="#ebebeb"/>
<rect x="629" y="235.23" width="2" height="67.94" fill="#ededed"/>
<rect x="631" y="235.23" width="1" height="67.94" fill="#ebebeb"/>
<rect x="632" y="235.23" width="1" height="67.94" fill="#ececec"/>
<rect x="633" y="235.23" width="1" height="67.94" fill="#ededed"/>
<rect x="634" y="235.23" width="2" height="67.94" fill="#eeeeee"/>
<rect x="636" y="235.23" width="1" height="67.94" fill="#ebebeb"/>
<rect x="637" y="235.23" width="2" height="67.94" fill="#ededed"/>
<rect x="639" y="235.23" width="3" height="67.94" fill="#e8e8e8"/>
<rect x="642" y="235.23" width="1" height="67.94" fill="#e9e9e9"/>
<rect x="643" y="235.23" width="1" height="67.94" fill="#ebebeb"/>
<rect x="644" y="235.23" width="1" height="67.94" fill="#ececec"/>
<rect x="645" y="235.23" width="2" height="67.94" fill="#ededed"/>
<rect x="647" y="235.23" width="1" height="67.94" fill="#e8e8e8"/>
<rect x="648" y="235.23" width="1" height="67.94" fill="#ebebeb"/>
<rect x="649" y="235.23" width="1" height="67.94" fill="#ededed"/>
<rect x="650" y="235.23" width="1" height="67.94" fill="#eeeeee"/>
<rect x="651" y="235.23" width="1" height="67.94" fill="#ededed"/>
<rect x="652" y="235.23" width="1" height="67.94" fill="#ececec"/>
<rect x="653" y="235.23" width="1" height="67.94" fill="#ebebeb"/>
<rect x="654" y="235.23" width="1" height="67.94" fill="#e8e8e8"/>
<rect x="655" y="235.23" width="1" height="67.94" fill="#e9e9e9"/>
<rect x="656" y="235.23" width="1" height="67.94" fill="#e7e7e7"/>
<rect x="657" y="235.23" width="1" height="67.94" fill="#e4e4e4"/>
<rect x="658" y="235.23" width="2" height="67.94" fill="#e6e6e6"/>
<rect x="660" y="235.23" width="1" height="67.94" fill="#e7e7e7"/>
<rect x="661" y="235.23" width="1" height="67.94" fill="#e8e8e8"/>
<rect x="662" y="235.23" width="1" height="67.94" fill="#e7e7e7"/>
<rect x="663" y="235.23" width="1" height="67.94" fill="#e9e9e9"/>
<rect x="664" y="235.23" width="2" height="67.94" fill="#ebebeb"/>
<rect x="666" y="235.23" width="1" height="67.94" fill="#eaeaea"/>
<rect x="667" y="235.23" width="2" height="67.94" fill="#ebebeb"/>
<rect x="669" y="235.23" width="1" height="67.94" fill="#e8e8e8"/>
<rect x="670" y="235.23" width="2" height="67.94" fill="#eaeaea"/>
<rect x="672" y="235.23" width="1" height="67.94" fill="#e8e8e8"/>
<rect x="673" y="235.23" width="2" height="67.94" fill="#e4e4e4"/>
<rect x="675" y="235.23" width="1" height="67.94" fill="#e5e5e5"/>
<rect x="676" y="235.23" width="1" height="67.94" fill="#e9e9e9"/>
<rect x="677" y="235.23" width="1" height="67.94" fill="#eaeaea"/>
<rect x="678" y="235.23" width="2" height="67.94" fill="#ebebeb"/>
<rect x="680" y="235.23" width="1" height="67.94" fill="#eaeaea"/>
<rect x="681" y="235.23" width="1" height="67.94" fill="#e6e6e6"/>
<rect x="682" y="235.23" width="1" height="67.94" fill="#e1e1e1"/>
<rect x="683" y="235.23" width="1" height="67.94" fill="#dbdbdb"/>
<rect x="684" y="235.23" width="1" height="67.94" fill="#e4e4e4"/>
<rect x="685" y="235.23" width="1" height="67.94" fill="#e8e8e8"/>
<rect x="686" y="235.23" width="1" height="67.94" fill="#e9e9e9"/>
<rect x="687" y="235.23" width="1" height="67.94" fill="#e7e7e7"/>
<rect x="688" y="235.23" width="1" height="67.94" fill="#e8e8e8"/>
<rect x="689" y="235.23" width="1" height="67.94" fill="#e9e9e9"/>
<rect x="690" y="235.23" width="2" height="67.94" fill="#eaeaea"/>
<rect x="692" y="235.23" width="1" height="67.94" fill="#ebebeb"/>
<rect x="693" y="235.23" width="2" height="67.94" fill="#eaeaea"/>
<rect x="695" y="235.23" width="1" height="67.94" fill="#ebebeb"/>
<rect x="696" y="235.23" width="1" height="67.94" fill="#e9e9e9"/>
<rect x="697" y="235.23" width="1" height="67.94" fill="#e7e7e7"/>
<rect x="698" y="235.23" width="1" height="67.94" fill="#e4e4e4"/>
<rect x="699" y="235.23" width="1" height="67.94" fill="#e5e5e5"/>
<rect x="700" y="235.23" width="1" height="67.94" fill="#e7e7e7"/>
<rect x="701" y="235.23" width="1" height="67.94" fill="#e9e9e9"/>
<rect x="702" y="235.23" width="1" height="67.94" fill="#eaeaea"/>
<rect x="703" y="235.23" width="3" height="67.94" fill="#e9e9e9"/>
<rect x="706" y="235.23" width="1" height="67.94" fill="#eaeaea"/>
<rect x="707" y="235.23" width="1" height="67.94" fill="#e9e9e9"/>
<rect x="708" y="235.23" width="2" height="67.94" fill="#eaeaea"/>
<rect x="710" y="235.23" width="1" height="67.94" fill="#e9e9e9"/>
<rect x="711" y="235.23" width="1" height="67.94" fill="#e2e2e2"/>
<rect x="712" y="235.23" width="1" height="67.94" fill="#dddddd"/>
<rect x="713" y="235.23" width="1" height="67.94" fill="#d9d9d9"/>
<rect x="714" y="235.23" width="1" height="67.94" fill="#e0e0e0"/>
<rect x="715" y="235.23" width="1" height="67.94" fill="#e4e4e4"/>
<rect x="716" y="235.23" width="1" height="67.94" fill="#e7e7e7"/>
<rect x="717" y="235.23" width="1" height="67.94" fill="#e5e5e5"/>
<rect x="718" y="235.23" width="3" height="67.94" fill="#e6e6e6"/>
<rect x="721" y="235.23" width="3" height="67.94" fill="#e5e5e5"/>
<rect x="724" y="235.23" width="1" height="67.94" fill="#e6e6e6"/>
<rect x="725" y="235.23" width="1" height="67.94" fill="#dddddd"/>
<rect x="726" y="235.23" width="1" height="67.94" fill="#e3e3e3"/>
<rect x="727" y="235.23" width="1" height="67.94" fill="#e5e5e5"/>
<rect x="728" y="235.23" width="1" height="67.94" fill="#e2e2e2"/>
<rect x="729" y="235.23" width="3" height="67.94" fill="#e5e5e5"/>
<rect x="732" y="235.23" width="1" height="67.94" fill="#e4e4e4"/>
<rect x="733" y="235.23" width="1" height="67.94" fill="#e2e2e2"/>
<rect x="734" y="235.23" width="1" height="67.94" fill="#e1e1e1"/>
<rect x="735" y="235.23" width="1" height="67.94" fill="#e0e0e0"/>
<rect x="736" y="235.23" width="1" height="67.94" fill="#dedede"/>
<rect x="737" y="235.23" width="2" height="67.94" fill="#e1e1e1"/>
<rect x="739" y="235.23" width="1" height="67.94" fill="#dedede"/>
<rect x="740" y="235.23" width="1" height="67.94" fill="#dadada"/>
<rect x="741" y="235.23" width="1" height="67.94" fill="#e0e0e0"/>
<rect x="742" y="235.23" width="1" height="67.94" fill="#e6e6e6"/>
<rect x="743" y="235.23" width="1" height="67.94" fill="#e8e8e8"/>
<rect x="744" y="235.23" width="4" height="67.94" fill="#e7e7e7"/>
<rect x="748" y="235.23" width="1" height="67.94" fill="#e5e5e5"/>
<rect x="749" y="235.23" width="1" height="67.94" fill="#e2e2e2"/>
<rect x="750" y="235.23" width="1" height="67.94" fill="#dedede"/>
<rect x="751" y="235.23" width="1" height="67.94" fill="#e6e6e6"/>
<rect x="752" y="235.23" width="2" height="67.94" fill="#e7e7e7"/>
<rect x="754" y="235.23" width="1" height="67.94" fill="#e3e3e3"/>
<rect x="755" y="235.23" width="4" height="67.94" fill="#e6e6e6"/>
<rect x="759" y="235.23" width="1" height="67.94" fill="#e2e2e2"/>
<rect x="760" y="235.23" width="1" height="67.94" fill="#dbdbdb"/>
<rect x="761" y="235.23" width="1" height="67.94" fill="#d2d2d2"/>
<rect x="762" y="235.23" width="1" height="67.94" fill="#d9d9d9"/>
<rect x="763" y="235.23" width="1" height="67.94" fill="#dbdbdb"/>
<rect x="764" y="235.23" width="1" height="67.94" fill="#dcdcdc"/>
<rect x="765" y="235.23" width="1" height="67.94" fill="#dbdbdb"/>
<rect x="766" y="235.23" width="1" height="67.94" fill="#dedede"/>
<rect x="767" y="235.23" width="1" height="67.94" fill="#e1e1e1"/>
<rect x="768" y="235.23" width="3" height="67.94" fill="#e4e4e4"/>
<rect x="771" y="235.23" width="1" height="67.94" fill="#e3e3e3"/>
<rect x="772" y="235.23" width="1" height="67.94" fill="#e0e0e0"/>
<rect x="773" y="235.23" width="4" height="67.94" fill="#d3d3d3"/>
<rect x="435.50" y="235.73" width="148.00" height="66.94" fill="none" stroke="#000" stroke-opacity="0.022" stroke-width="1"/>
<rect x="585.50" y="235.73" width="191.00" height="66.94" fill="none" stroke="#000" stroke-opacity="0.022" stroke-width="1"/>
</g>
<polyline points="436.00,81.25 437.50,77.50 438.75,76.88 440.00,81.88 441.25,77.50 442.50,76.25 444.38,75.62 446.25,75.62 448.12,76.00 450.00,75.62 452.25,74.75 453.75,76.00 455.62,76.50 457.50,75.00 459.00,75.62 460.62,77.75 462.50,76.88 464.38,76.25 466.25,76.50 468.12,75.62 469.75,76.88 471.25,75.25 473.12,75.62 474.38,77.25 475.62,77.50 477.25,79.00 478.75,76.88 480.62,76.25 482.50,76.00 484.38,76.25 486.25,75.25 488.12,76.25 490.00,75.62 491.88,76.00 493.75,75.25 495.62,76.88 497.50,78.75 499.38,76.50 501.25,75.62 503.12,76.50 505.00,76.00 506.50,77.50 507.50,79.38 509.38,77.50 511.25,76.88 513.12,76.25 515.00,76.88 516.88,76.25 518.50,75.25 520.00,76.88 521.88,78.75 523.12,79.75 524.38,77.50 525.62,79.00 527.50,77.50 530.00,77.50 531.88,76.25 533.75,77.50 535.62,77.25 537.50,78.12 539.38,79.00 541.25,77.50 542.50,76.25 544.38,76.88 546.00,76.00 547.50,77.50 549.38,80.25 551.25,78.12 553.12,76.88 555.00,77.50 556.25,76.50 557.75,81.00 559.38,78.75 561.25,77.50 562.75,76.88 564.38,80.00 565.62,81.88 567.25,84.38 568.75,80.62 570.25,78.50 571.88,80.00 573.12,81.25 574.75,78.12 576.25,80.00 577.50,81.88 579.00,81.25 581.00,83.75 582.50,80.00 584.38,79.00 586.25,79.38 588.12,79.00 590.00,78.50 591.88,79.38 593.50,81.25 594.75,84.75 596.25,81.88 598.12,78.75 599.75,78.12 601.25,79.00 603.12,78.50 605.00,78.12 606.25,77.50 607.50,81.25 608.75,83.75 610.00,79.38 611.25,80.00 612.50,78.50 613.50,86.88 614.75,89.00 616.00,81.88 617.25,79.75 618.50,80.62 619.75,87.50 620.75,92.75 622.25,84.38 623.50,80.00 625.00,79.38 626.88,80.62 628.12,82.50 630.00,80.00 631.88,82.25 633.50,80.62 635.00,79.00 636.50,81.88 637.75,83.75 638.75,78.75 640.00,83.75 641.88,83.12 643.50,82.25 645.00,82.50 646.50,80.62 648.12,83.75 649.75,81.25 651.00,80.62 652.25,79.00 653.50,82.25 655.00,85.00 656.50,83.12 657.75,86.25 659.38,85.62 661.00,86.00 662.25,83.50 663.50,85.62 665.00,82.50 666.50,81.88 667.50,80.00 668.75,83.75 670.00,85.62 671.50,83.12 673.12,85.62 674.75,88.12 676.25,85.00 677.75,84.38 679.38,83.12 681.00,81.88 682.25,86.88 683.50,93.12 685.00,86.88 686.50,83.75 688.12,85.62 689.75,85.00 691.25,83.75 693.12,82.75 694.75,84.00 696.25,83.75 698.12,86.25 699.75,88.12 701.25,84.38 702.75,83.12 704.38,85.00 706.00,85.62 707.50,84.38 709.00,85.62 710.62,83.75 711.50,82.25 712.50,91.25 713.75,95.00 715.25,89.38 716.88,85.62 718.50,88.75 720.00,85.62 721.50,88.12 723.12,89.38 724.38,86.88 726.00,92.75 727.50,88.12 728.75,90.00 730.00,87.50 731.88,88.75 733.75,90.00 735.62,91.25 736.88,92.25 738.50,90.00 740.00,93.12 741.00,95.00 742.50,88.12 744.00,86.88 745.62,86.25 746.88,85.00 748.50,87.50 749.75,89.38 751.00,92.50 752.25,86.88 753.50,85.00 755.00,90.00 756.50,86.88 757.75,85.62 759.38,87.50 760.62,90.62 761.50,103.12 763.12,94.38 764.38,93.12 765.62,94.38 767.50,91.88 769.38,88.12 770.62,87.25 771.88,89.38 773.12,93.75 774.00,101.25 775.62,101.25 776.50,101.00" fill="none" stroke="#66c2a5" stroke-width="1.07" stroke-linejoin="round"/>
<polyline points="436.07,72.70 776.70,72.70" fill="none" stroke="#fc8d62" stroke-width="0.68" stroke-dasharray="3 3"/>
<line x1="436.07" y1="72.70" x2="776.70" y2="72.70" stroke="#fc8d62" stroke-width="0.53"/>
<line x1="436.07" y1="72.70" x2="776.70" y2="72.70" stroke="#fc8d62" stroke-width="0.53" stroke-dasharray="3 3"/>
<text x="434.70" y="356" font-size="11.12" word-spacing="0.55" fill="#ff0000" xml:space="preserve">Reads:  92787</text>
<rect x="417.60" y="5.50" width="376.90" height="17.80" fill="#d9d9d9"/>
<rect x="417.60" y="5.50" width="376.90" height="0.53" fill="#333333"/>
<rect x="417.60" y="22.77" width="376.90" height="0.53" fill="#333333"/>
<rect x="417.60" y="5.50" width="0.53" height="17.80" fill="#333333"/>
<rect x="793.97" y="5.50" width="0.53" height="17.80" fill="#333333"/>
<rect x="417.60" y="23.30" width="376.90" height="0.53" fill="#333333"/>
<rect x="417.60" y="367.37" width="376.90" height="0.53" fill="#333333"/>
<rect x="417.60" y="23.30" width="0.53" height="344.60" fill="#333333"/>
<rect x="793.97" y="23.30" width="0.53" height="344.60" fill="#333333"/>
<text x="605.75" y="18" font-size="8.9" letter-spacing="0.16" fill="#262626" text-anchor="middle">F1043432.S01_R2.fastq</text>
<rect x="434.16" y="367.90" width="1.07" height="2.75" fill="#333333"/>
<text transform="translate(434.85,380.45) scale(1,1.06)" font-size="9.2" letter-spacing="0.25" fill="#555" text-anchor="middle">0</text>
<rect x="502.56" y="367.90" width="1.07" height="2.75" fill="#333333"/>
<text transform="translate(503.25,380.45) scale(1,1.06)" font-size="9.2" letter-spacing="0.25" fill="#555" text-anchor="middle">50</text>
<rect x="570.97" y="367.90" width="1.07" height="2.75" fill="#333333"/>
<text transform="translate(571.65,380.45) scale(1,1.06)" font-size="9.2" letter-spacing="0.25" fill="#555" text-anchor="middle">100</text>
<rect x="639.37" y="367.90" width="1.07" height="2.75" fill="#333333"/>
<text transform="translate(640.05,380.45) scale(1,1.06)" font-size="9.2" letter-spacing="0.25" fill="#555" text-anchor="middle">150</text>
<rect x="707.76" y="367.90" width="1.07" height="2.75" fill="#333333"/>
<text transform="translate(708.45,380.45) scale(1,1.06)" font-size="9.2" letter-spacing="0.25" fill="#555" text-anchor="middle">200</text>
<rect x="776.17" y="367.90" width="1.07" height="2.75" fill="#333333"/>
<text transform="translate(776.85,380.45) scale(1,1.06)" font-size="9.2" letter-spacing="0.25" fill="#555" text-anchor="middle">250</text>
<rect x="32.45" y="351.70" width="2.75" height="1.07" fill="#333333"/>
<text transform="translate(29.75,356.00) scale(1,1.06)" font-size="9.2" letter-spacing="0.3" fill="#555" text-anchor="end">0</text>
<rect x="32.45" y="276.21" width="2.75" height="1.07" fill="#333333"/>
<text transform="translate(29.75,280.00) scale(1,1.06)" font-size="9.2" letter-spacing="0.3" fill="#555" text-anchor="end">10</text>
<rect x="32.45" y="200.72" width="2.75" height="1.07" fill="#333333"/>
<text transform="translate(29.75,205.00) scale(1,1.06)" font-size="9.2" letter-spacing="0.3" fill="#555" text-anchor="end">20</text>
<rect x="32.45" y="125.24" width="2.75" height="1.07" fill="#333333"/>
<text transform="translate(29.75,129.00) scale(1,1.06)" font-size="9.2" letter-spacing="0.3" fill="#555" text-anchor="end">30</text>
<rect x="32.45" y="49.74" width="2.75" height="1.07" fill="#333333"/>
<text transform="translate(29.75,54.00) scale(1,1.06)" font-size="9.2" letter-spacing="0.3" fill="#555" text-anchor="end">40</text>
<text transform="translate(414.6,393.1) scale(1,1.04)" font-size="11.5" fill="#000" text-anchor="middle">Cycle</text>
<text transform="translate(13.6,195.5) rotate(-90) scale(1,1.06)" font-size="11.15" fill="#000" text-anchor="middle">Quality Score</text>
</svg>
</body></html>
